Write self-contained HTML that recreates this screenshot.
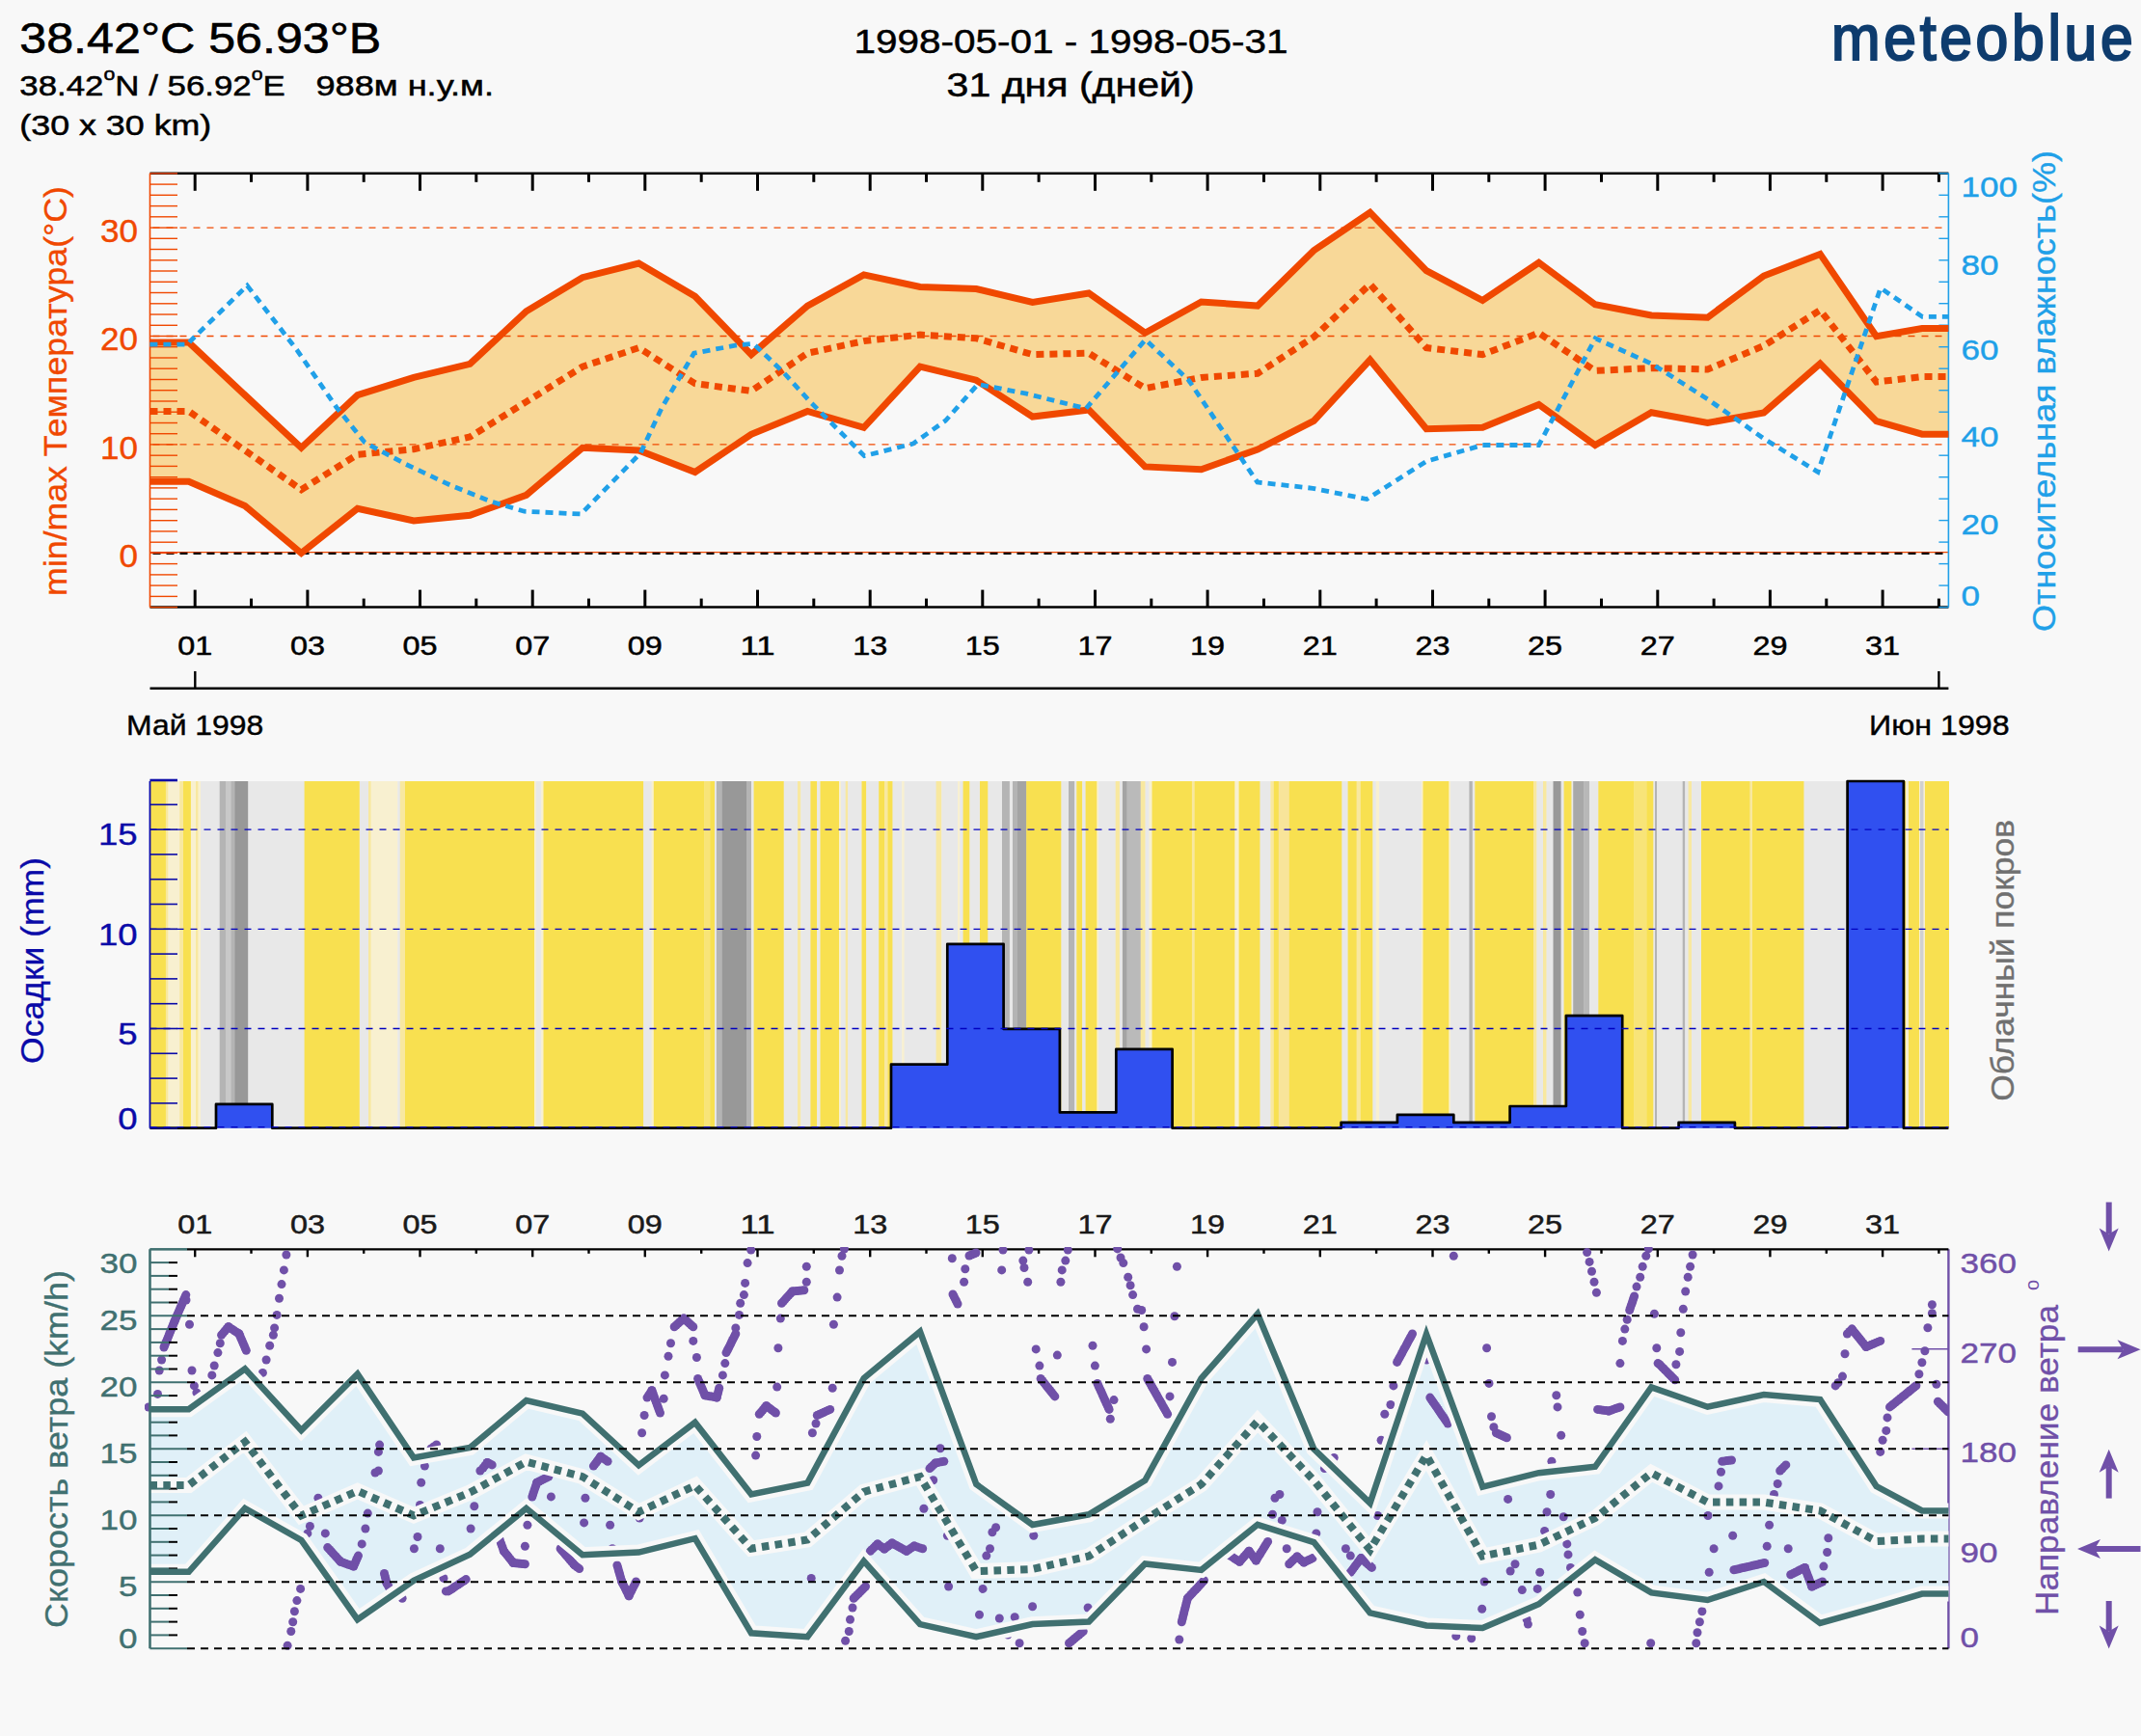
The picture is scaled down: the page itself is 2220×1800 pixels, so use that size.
<!DOCTYPE html><html><head><meta charset="utf-8"><style>html,body{margin:0;padding:0;background:#f8f8f8;overflow:hidden;}svg{display:block;font-family:"Liberation Sans", sans-serif;}</style></head><body>
<svg width="2220" height="1800" viewBox="0 0 2220 1800">
<rect width="2220" height="1800" fill="#f8f8f8"/>
<text x="20.3" y="55.0" font-size="44.5" fill="#000" textLength="375.0" lengthAdjust="spacingAndGlyphs"  stroke="#000" stroke-width="0.60">38.42°C 56.93°B</text>
<text x="20.3" y="99" font-size="29.5" fill="#000" stroke="#000" stroke-width="0.5" textLength="275.5" lengthAdjust="spacingAndGlyphs">38.42<tspan font-size="18" dy="-16">o</tspan><tspan dy="16">N / 56.92</tspan><tspan font-size="18" dy="-16">o</tspan><tspan dy="16">E</tspan></text>
<text x="327.5" y="99.0" font-size="29.5" fill="#000" textLength="184.5" lengthAdjust="spacingAndGlyphs"  stroke="#000" stroke-width="0.50">988м н.у.м.</text>
<text x="20.3" y="140.0" font-size="29.5" fill="#000" textLength="199.0" lengthAdjust="spacingAndGlyphs"  stroke="#000" stroke-width="0.50">(30 x 30 km)</text>
<text x="885.5" y="54.7" font-size="35.3" fill="#000" textLength="450.0" lengthAdjust="spacingAndGlyphs"  stroke="#000" stroke-width="0.50">1998-05-01 - 1998-05-31</text>
<text x="981.6" y="99.5" font-size="35.3" fill="#000" textLength="257.0" lengthAdjust="spacingAndGlyphs"  stroke="#000" stroke-width="0.50">31 дня (дней)</text>
<text transform="translate(1899,62) scale(0.92,1)" x="0" y="0" font-size="66" fill="#0e3c6e" stroke="#0e3c6e" stroke-width="2.2" textLength="340" lengthAdjust="spacing">meteoblue</text>
<polygon points="155.5,355.0 195.7,355.0 254.0,409.6 312.4,464.3 370.7,409.6 429.0,391.4 487.3,377.4 545.7,322.7 604.0,287.7 662.3,273.1 720.7,307.3 779.0,367.6 837.3,317.1 895.7,284.9 954.0,297.5 1012.3,299.5 1070.6,313.5 1129.0,304.0 1187.3,345.2 1245.6,313.0 1304.0,317.1 1362.3,259.7 1420.6,220.4 1479.0,280.7 1537.3,311.5 1595.6,272.3 1654.0,315.7 1712.3,327.0 1770.6,329.2 1828.9,286.0 1887.3,263.4 1945.6,348.7 1993.0,340.5 2020.4,340.5 2020.4,450.2 1993.0,450.2 1945.6,436.6 1887.3,377.1 1828.9,428.0 1770.6,438.5 1712.3,427.8 1654.0,461.5 1595.6,419.4 1537.3,443.3 1479.0,444.7 1420.6,373.2 1362.3,436.3 1304.0,466.0 1245.6,486.7 1187.3,483.9 1129.0,425.0 1070.6,432.0 1012.3,394.2 954.0,380.2 895.7,443.3 837.3,426.4 779.0,450.3 720.7,489.5 662.3,467.0 604.0,464.3 545.7,513.3 487.3,534.3 429.0,540.0 370.7,527.3 312.4,573.6 254.0,524.5 195.7,499.3 155.5,499.3" fill="#f8d898"/>
<line x1="158.5" y1="460.9" x2="2020.4" y2="460.9" stroke="#f04800" stroke-width="1.3" stroke-dasharray="7 7"/>
<line x1="158.5" y1="348.5" x2="2020.4" y2="348.5" stroke="#f04800" stroke-width="1.3" stroke-dasharray="7 7"/>
<line x1="158.5" y1="236.1" x2="2020.4" y2="236.1" stroke="#f04800" stroke-width="1.3" stroke-dasharray="7 7"/>
<line x1="155.5" y1="572.6" x2="2020.4" y2="572.6" stroke="#f04800" stroke-width="1.2"/>
<line x1="158.5" y1="573.9" x2="2020.4" y2="573.9" stroke="#000" stroke-width="2.4" stroke-dasharray="8 6"/>
<line x1="155.5" y1="179.8" x2="2020.4" y2="179.8" stroke="#000" stroke-width="2.5"/>
<line x1="155.5" y1="629.6" x2="2020.4" y2="629.6" stroke="#000" stroke-width="2.5"/>
<line x1="202.2" y1="179.8" x2="202.2" y2="197.8" stroke="#000" stroke-width="3"/>
<line x1="202.2" y1="629.6" x2="202.2" y2="611.6" stroke="#000" stroke-width="3"/>
<line x1="260.5" y1="179.8" x2="260.5" y2="188.8" stroke="#000" stroke-width="3"/>
<line x1="260.5" y1="629.6" x2="260.5" y2="620.6" stroke="#000" stroke-width="3"/>
<line x1="318.9" y1="179.8" x2="318.9" y2="197.8" stroke="#000" stroke-width="3"/>
<line x1="318.9" y1="629.6" x2="318.9" y2="611.6" stroke="#000" stroke-width="3"/>
<line x1="377.2" y1="179.8" x2="377.2" y2="188.8" stroke="#000" stroke-width="3"/>
<line x1="377.2" y1="629.6" x2="377.2" y2="620.6" stroke="#000" stroke-width="3"/>
<line x1="435.5" y1="179.8" x2="435.5" y2="197.8" stroke="#000" stroke-width="3"/>
<line x1="435.5" y1="629.6" x2="435.5" y2="611.6" stroke="#000" stroke-width="3"/>
<line x1="493.8" y1="179.8" x2="493.8" y2="188.8" stroke="#000" stroke-width="3"/>
<line x1="493.8" y1="629.6" x2="493.8" y2="620.6" stroke="#000" stroke-width="3"/>
<line x1="552.2" y1="179.8" x2="552.2" y2="197.8" stroke="#000" stroke-width="3"/>
<line x1="552.2" y1="629.6" x2="552.2" y2="611.6" stroke="#000" stroke-width="3"/>
<line x1="610.5" y1="179.8" x2="610.5" y2="188.8" stroke="#000" stroke-width="3"/>
<line x1="610.5" y1="629.6" x2="610.5" y2="620.6" stroke="#000" stroke-width="3"/>
<line x1="668.8" y1="179.8" x2="668.8" y2="197.8" stroke="#000" stroke-width="3"/>
<line x1="668.8" y1="629.6" x2="668.8" y2="611.6" stroke="#000" stroke-width="3"/>
<line x1="727.2" y1="179.8" x2="727.2" y2="188.8" stroke="#000" stroke-width="3"/>
<line x1="727.2" y1="629.6" x2="727.2" y2="620.6" stroke="#000" stroke-width="3"/>
<line x1="785.5" y1="179.8" x2="785.5" y2="197.8" stroke="#000" stroke-width="3"/>
<line x1="785.5" y1="629.6" x2="785.5" y2="611.6" stroke="#000" stroke-width="3"/>
<line x1="843.8" y1="179.8" x2="843.8" y2="188.8" stroke="#000" stroke-width="3"/>
<line x1="843.8" y1="629.6" x2="843.8" y2="620.6" stroke="#000" stroke-width="3"/>
<line x1="902.2" y1="179.8" x2="902.2" y2="197.8" stroke="#000" stroke-width="3"/>
<line x1="902.2" y1="629.6" x2="902.2" y2="611.6" stroke="#000" stroke-width="3"/>
<line x1="960.5" y1="179.8" x2="960.5" y2="188.8" stroke="#000" stroke-width="3"/>
<line x1="960.5" y1="629.6" x2="960.5" y2="620.6" stroke="#000" stroke-width="3"/>
<line x1="1018.8" y1="179.8" x2="1018.8" y2="197.8" stroke="#000" stroke-width="3"/>
<line x1="1018.8" y1="629.6" x2="1018.8" y2="611.6" stroke="#000" stroke-width="3"/>
<line x1="1077.1" y1="179.8" x2="1077.1" y2="188.8" stroke="#000" stroke-width="3"/>
<line x1="1077.1" y1="629.6" x2="1077.1" y2="620.6" stroke="#000" stroke-width="3"/>
<line x1="1135.5" y1="179.8" x2="1135.5" y2="197.8" stroke="#000" stroke-width="3"/>
<line x1="1135.5" y1="629.6" x2="1135.5" y2="611.6" stroke="#000" stroke-width="3"/>
<line x1="1193.8" y1="179.8" x2="1193.8" y2="188.8" stroke="#000" stroke-width="3"/>
<line x1="1193.8" y1="629.6" x2="1193.8" y2="620.6" stroke="#000" stroke-width="3"/>
<line x1="1252.1" y1="179.8" x2="1252.1" y2="197.8" stroke="#000" stroke-width="3"/>
<line x1="1252.1" y1="629.6" x2="1252.1" y2="611.6" stroke="#000" stroke-width="3"/>
<line x1="1310.5" y1="179.8" x2="1310.5" y2="188.8" stroke="#000" stroke-width="3"/>
<line x1="1310.5" y1="629.6" x2="1310.5" y2="620.6" stroke="#000" stroke-width="3"/>
<line x1="1368.8" y1="179.8" x2="1368.8" y2="197.8" stroke="#000" stroke-width="3"/>
<line x1="1368.8" y1="629.6" x2="1368.8" y2="611.6" stroke="#000" stroke-width="3"/>
<line x1="1427.1" y1="179.8" x2="1427.1" y2="188.8" stroke="#000" stroke-width="3"/>
<line x1="1427.1" y1="629.6" x2="1427.1" y2="620.6" stroke="#000" stroke-width="3"/>
<line x1="1485.5" y1="179.8" x2="1485.5" y2="197.8" stroke="#000" stroke-width="3"/>
<line x1="1485.5" y1="629.6" x2="1485.5" y2="611.6" stroke="#000" stroke-width="3"/>
<line x1="1543.8" y1="179.8" x2="1543.8" y2="188.8" stroke="#000" stroke-width="3"/>
<line x1="1543.8" y1="629.6" x2="1543.8" y2="620.6" stroke="#000" stroke-width="3"/>
<line x1="1602.1" y1="179.8" x2="1602.1" y2="197.8" stroke="#000" stroke-width="3"/>
<line x1="1602.1" y1="629.6" x2="1602.1" y2="611.6" stroke="#000" stroke-width="3"/>
<line x1="1660.5" y1="179.8" x2="1660.5" y2="188.8" stroke="#000" stroke-width="3"/>
<line x1="1660.5" y1="629.6" x2="1660.5" y2="620.6" stroke="#000" stroke-width="3"/>
<line x1="1718.8" y1="179.8" x2="1718.8" y2="197.8" stroke="#000" stroke-width="3"/>
<line x1="1718.8" y1="629.6" x2="1718.8" y2="611.6" stroke="#000" stroke-width="3"/>
<line x1="1777.1" y1="179.8" x2="1777.1" y2="188.8" stroke="#000" stroke-width="3"/>
<line x1="1777.1" y1="629.6" x2="1777.1" y2="620.6" stroke="#000" stroke-width="3"/>
<line x1="1835.4" y1="179.8" x2="1835.4" y2="197.8" stroke="#000" stroke-width="3"/>
<line x1="1835.4" y1="629.6" x2="1835.4" y2="611.6" stroke="#000" stroke-width="3"/>
<line x1="1893.8" y1="179.8" x2="1893.8" y2="188.8" stroke="#000" stroke-width="3"/>
<line x1="1893.8" y1="629.6" x2="1893.8" y2="620.6" stroke="#000" stroke-width="3"/>
<line x1="1952.1" y1="179.8" x2="1952.1" y2="197.8" stroke="#000" stroke-width="3"/>
<line x1="1952.1" y1="629.6" x2="1952.1" y2="611.6" stroke="#000" stroke-width="3"/>
<line x1="2010.4" y1="179.8" x2="2010.4" y2="188.8" stroke="#000" stroke-width="3"/>
<line x1="2010.4" y1="629.6" x2="2010.4" y2="620.6" stroke="#000" stroke-width="3"/>
<line x1="155.5" y1="179.8" x2="155.5" y2="629.6" stroke="#f04800" stroke-width="1.6"/>
<line x1="155.5" y1="629.6" x2="184" y2="629.6" stroke="#f04800" stroke-width="1.4"/>
<line x1="155.5" y1="618.4" x2="184" y2="618.4" stroke="#f04800" stroke-width="1.4"/>
<line x1="155.5" y1="607.1" x2="184" y2="607.1" stroke="#f04800" stroke-width="1.4"/>
<line x1="155.5" y1="595.9" x2="184" y2="595.9" stroke="#f04800" stroke-width="1.4"/>
<line x1="155.5" y1="584.6" x2="184" y2="584.6" stroke="#f04800" stroke-width="1.4"/>
<line x1="155.5" y1="573.4" x2="184" y2="573.4" stroke="#f04800" stroke-width="1.4"/>
<line x1="155.5" y1="562.2" x2="184" y2="562.2" stroke="#f04800" stroke-width="1.4"/>
<line x1="155.5" y1="550.9" x2="184" y2="550.9" stroke="#f04800" stroke-width="1.4"/>
<line x1="155.5" y1="539.7" x2="184" y2="539.7" stroke="#f04800" stroke-width="1.4"/>
<line x1="155.5" y1="528.4" x2="184" y2="528.4" stroke="#f04800" stroke-width="1.4"/>
<line x1="155.5" y1="517.2" x2="184" y2="517.2" stroke="#f04800" stroke-width="1.4"/>
<line x1="155.5" y1="505.9" x2="184" y2="505.9" stroke="#f04800" stroke-width="1.4"/>
<line x1="155.5" y1="494.7" x2="184" y2="494.7" stroke="#f04800" stroke-width="1.4"/>
<line x1="155.5" y1="483.4" x2="184" y2="483.4" stroke="#f04800" stroke-width="1.4"/>
<line x1="155.5" y1="472.2" x2="184" y2="472.2" stroke="#f04800" stroke-width="1.4"/>
<line x1="155.5" y1="460.9" x2="184" y2="460.9" stroke="#f04800" stroke-width="1.4"/>
<line x1="155.5" y1="449.7" x2="184" y2="449.7" stroke="#f04800" stroke-width="1.4"/>
<line x1="155.5" y1="438.5" x2="184" y2="438.5" stroke="#f04800" stroke-width="1.4"/>
<line x1="155.5" y1="427.2" x2="184" y2="427.2" stroke="#f04800" stroke-width="1.4"/>
<line x1="155.5" y1="416.0" x2="184" y2="416.0" stroke="#f04800" stroke-width="1.4"/>
<line x1="155.5" y1="404.7" x2="184" y2="404.7" stroke="#f04800" stroke-width="1.4"/>
<line x1="155.5" y1="393.5" x2="184" y2="393.5" stroke="#f04800" stroke-width="1.4"/>
<line x1="155.5" y1="382.2" x2="184" y2="382.2" stroke="#f04800" stroke-width="1.4"/>
<line x1="155.5" y1="371.0" x2="184" y2="371.0" stroke="#f04800" stroke-width="1.4"/>
<line x1="155.5" y1="359.7" x2="184" y2="359.7" stroke="#f04800" stroke-width="1.4"/>
<line x1="155.5" y1="348.5" x2="184" y2="348.5" stroke="#f04800" stroke-width="1.4"/>
<line x1="155.5" y1="337.3" x2="184" y2="337.3" stroke="#f04800" stroke-width="1.4"/>
<line x1="155.5" y1="326.0" x2="184" y2="326.0" stroke="#f04800" stroke-width="1.4"/>
<line x1="155.5" y1="314.8" x2="184" y2="314.8" stroke="#f04800" stroke-width="1.4"/>
<line x1="155.5" y1="303.5" x2="184" y2="303.5" stroke="#f04800" stroke-width="1.4"/>
<line x1="155.5" y1="292.3" x2="184" y2="292.3" stroke="#f04800" stroke-width="1.4"/>
<line x1="155.5" y1="281.0" x2="184" y2="281.0" stroke="#f04800" stroke-width="1.4"/>
<line x1="155.5" y1="269.8" x2="184" y2="269.8" stroke="#f04800" stroke-width="1.4"/>
<line x1="155.5" y1="258.5" x2="184" y2="258.5" stroke="#f04800" stroke-width="1.4"/>
<line x1="155.5" y1="247.3" x2="184" y2="247.3" stroke="#f04800" stroke-width="1.4"/>
<line x1="155.5" y1="236.1" x2="184" y2="236.1" stroke="#f04800" stroke-width="1.4"/>
<line x1="155.5" y1="224.8" x2="184" y2="224.8" stroke="#f04800" stroke-width="1.4"/>
<line x1="155.5" y1="213.6" x2="184" y2="213.6" stroke="#f04800" stroke-width="1.4"/>
<line x1="155.5" y1="202.3" x2="184" y2="202.3" stroke="#f04800" stroke-width="1.4"/>
<line x1="155.5" y1="191.1" x2="184" y2="191.1" stroke="#f04800" stroke-width="1.4"/>
<line x1="155.5" y1="179.8" x2="184" y2="179.8" stroke="#f04800" stroke-width="1.4"/>
<line x1="2020.4" y1="179.8" x2="2020.4" y2="629.6" stroke="#20a0e8" stroke-width="1.6"/>
<line x1="2010.4" y1="629.6" x2="2020.4" y2="629.6" stroke="#20a0e8" stroke-width="1.4"/>
<line x1="2010.4" y1="607.1" x2="2020.4" y2="607.1" stroke="#20a0e8" stroke-width="1.4"/>
<line x1="2010.4" y1="584.6" x2="2020.4" y2="584.6" stroke="#20a0e8" stroke-width="1.4"/>
<line x1="2010.4" y1="562.1" x2="2020.4" y2="562.1" stroke="#20a0e8" stroke-width="1.4"/>
<line x1="2010.4" y1="539.6" x2="2020.4" y2="539.6" stroke="#20a0e8" stroke-width="1.4"/>
<line x1="2010.4" y1="517.2" x2="2020.4" y2="517.2" stroke="#20a0e8" stroke-width="1.4"/>
<line x1="2010.4" y1="494.7" x2="2020.4" y2="494.7" stroke="#20a0e8" stroke-width="1.4"/>
<line x1="2010.4" y1="472.2" x2="2020.4" y2="472.2" stroke="#20a0e8" stroke-width="1.4"/>
<line x1="2010.4" y1="449.7" x2="2020.4" y2="449.7" stroke="#20a0e8" stroke-width="1.4"/>
<line x1="2010.4" y1="427.2" x2="2020.4" y2="427.2" stroke="#20a0e8" stroke-width="1.4"/>
<line x1="2010.4" y1="404.7" x2="2020.4" y2="404.7" stroke="#20a0e8" stroke-width="1.4"/>
<line x1="2010.4" y1="382.2" x2="2020.4" y2="382.2" stroke="#20a0e8" stroke-width="1.4"/>
<line x1="2010.4" y1="359.7" x2="2020.4" y2="359.7" stroke="#20a0e8" stroke-width="1.4"/>
<line x1="2010.4" y1="337.2" x2="2020.4" y2="337.2" stroke="#20a0e8" stroke-width="1.4"/>
<line x1="2010.4" y1="314.7" x2="2020.4" y2="314.7" stroke="#20a0e8" stroke-width="1.4"/>
<line x1="2010.4" y1="292.3" x2="2020.4" y2="292.3" stroke="#20a0e8" stroke-width="1.4"/>
<line x1="2010.4" y1="269.8" x2="2020.4" y2="269.8" stroke="#20a0e8" stroke-width="1.4"/>
<line x1="2010.4" y1="247.3" x2="2020.4" y2="247.3" stroke="#20a0e8" stroke-width="1.4"/>
<line x1="2010.4" y1="224.8" x2="2020.4" y2="224.8" stroke="#20a0e8" stroke-width="1.4"/>
<line x1="2010.4" y1="202.3" x2="2020.4" y2="202.3" stroke="#20a0e8" stroke-width="1.4"/>
<line x1="2010.4" y1="179.8" x2="2020.4" y2="179.8" stroke="#20a0e8" stroke-width="1.4"/>
<polyline points="155.5,355.0 195.7,355.0 254.0,409.6 312.4,464.3 370.7,409.6 429.0,391.4 487.3,377.4 545.7,322.7 604.0,287.7 662.3,273.1 720.7,307.3 779.0,367.6 837.3,317.1 895.7,284.9 954.0,297.5 1012.3,299.5 1070.6,313.5 1129.0,304.0 1187.3,345.2 1245.6,313.0 1304.0,317.1 1362.3,259.7 1420.6,220.4 1479.0,280.7 1537.3,311.5 1595.6,272.3 1654.0,315.7 1712.3,327.0 1770.6,329.2 1828.9,286.0 1887.3,263.4 1945.6,348.7 1993.0,340.5 2020.4,340.5" fill="none" stroke="#f04800" stroke-width="7" stroke-linejoin="miter"/>
<polyline points="155.5,499.3 195.7,499.3 254.0,524.5 312.4,573.6 370.7,527.3 429.0,540.0 487.3,534.3 545.7,513.3 604.0,464.3 662.3,467.0 720.7,489.5 779.0,450.3 837.3,426.4 895.7,443.3 954.0,380.2 1012.3,394.2 1070.6,432.0 1129.0,425.0 1187.3,483.9 1245.6,486.7 1304.0,466.0 1362.3,436.3 1420.6,373.2 1479.0,444.7 1537.3,443.3 1595.6,419.4 1654.0,461.5 1712.3,427.8 1770.6,438.5 1828.9,428.0 1887.3,377.1 1945.6,436.6 1993.0,450.2 2020.4,450.2" fill="none" stroke="#f04800" stroke-width="7"/>
<polyline points="155.5,426.4 195.7,426.4 254.0,467.0 312.4,507.7 370.7,471.3 429.0,465.7 487.3,453.0 545.7,416.6 604.0,380.2 662.3,360.6 720.7,397.7 779.0,405.4 837.3,366.2 895.7,353.6 954.0,347.1 1012.3,350.8 1070.6,367.6 1129.0,366.2 1187.3,402.6 1245.6,391.4 1304.0,387.2 1362.3,349.4 1420.6,294.7 1479.0,360.6 1537.3,367.6 1595.6,345.2 1654.0,384.4 1712.3,381.6 1770.6,383.0 1828.9,358.5 1887.3,321.6 1945.6,396.0 1993.0,390.6 2020.4,390.6" fill="none" stroke="#f04800" stroke-width="7" stroke-dasharray="8 6"/>
<polyline points="155.4,357.2 194.7,357.2 197.5,353.6 256.3,296.1 308.2,363.3 348.8,422.2 378.2,458.7 420.3,481.1 467.9,503.5 510.0,520.3 543.6,530.2 602.4,533.0 664.1,469.9 686.5,422.2 719.6,366.2 764.5,357.8 781.3,356.4 812.1,385.8 840.1,416.6 896.2,472.7 946.6,460.1 980.3,436.3 1013.9,398.4 1064.4,408.2 1126.0,423.6 1187.7,352.2 1232.5,394.2 1303.8,500.0 1361.3,506.3 1417.3,517.5 1479.0,478.3 1537.3,461.5 1595.6,461.5 1654.2,350.8 1713.0,377.4 1770.5,413.8 1829.3,455.0 1885.0,489.4 1950.0,298.6 1993.3,328.4 2020.3,328.4" fill="none" stroke="#20a0e8" stroke-width="4.8" stroke-dasharray="8 6"/>
<text x="143.0" y="250.5" font-size="32.5" fill="#f04800" textLength="39.0" lengthAdjust="spacingAndGlyphs" text-anchor="end"  stroke="#f04800" stroke-width="0.40">30</text>
<text x="143.0" y="363.3" font-size="32.5" fill="#f04800" textLength="39.0" lengthAdjust="spacingAndGlyphs" text-anchor="end"  stroke="#f04800" stroke-width="0.40">20</text>
<text x="143.0" y="475.6" font-size="32.5" fill="#f04800" textLength="39.0" lengthAdjust="spacingAndGlyphs" text-anchor="end"  stroke="#f04800" stroke-width="0.40">10</text>
<text x="143.0" y="587.9" font-size="32.5" fill="#f04800" textLength="19.5" lengthAdjust="spacingAndGlyphs" text-anchor="end"  stroke="#f04800" stroke-width="0.40">0</text>
<text x="2033.5" y="203.7" font-size="30.0" fill="#20a0e8" textLength="58.5" lengthAdjust="spacingAndGlyphs"  stroke="#20a0e8" stroke-width="0.40">100</text>
<text x="2033.5" y="284.5" font-size="30.0" fill="#20a0e8" textLength="39.0" lengthAdjust="spacingAndGlyphs"  stroke="#20a0e8" stroke-width="0.40">80</text>
<text x="2033.5" y="373.1" font-size="30.0" fill="#20a0e8" textLength="39.0" lengthAdjust="spacingAndGlyphs"  stroke="#20a0e8" stroke-width="0.40">60</text>
<text x="2033.5" y="463.3" font-size="30.0" fill="#20a0e8" textLength="39.0" lengthAdjust="spacingAndGlyphs"  stroke="#20a0e8" stroke-width="0.40">40</text>
<text x="2033.5" y="553.5" font-size="30.0" fill="#20a0e8" textLength="39.0" lengthAdjust="spacingAndGlyphs"  stroke="#20a0e8" stroke-width="0.40">20</text>
<text x="2033.5" y="628.1" font-size="30.0" fill="#20a0e8" textLength="19.5" lengthAdjust="spacingAndGlyphs"  stroke="#20a0e8" stroke-width="0.40">0</text>
<text transform="translate(69.1,618) rotate(-90)" font-size="34" fill="#f04800" stroke="#f04800" stroke-width="0.35" textLength="425" lengthAdjust="spacingAndGlyphs">min/max Температура(°C)</text>
<text transform="translate(2131,655) rotate(-90)" font-size="34" fill="#20a0e8" stroke="#20a0e8" stroke-width="0.35" textLength="499" lengthAdjust="spacingAndGlyphs">Относительная влажность(%)</text>
<text x="202.2" y="678.9" font-size="28.5" fill="#000" textLength="36.0" lengthAdjust="spacingAndGlyphs" text-anchor="middle"  stroke="#000" stroke-width="0.50">01</text>
<text x="318.9" y="678.9" font-size="28.5" fill="#000" textLength="36.0" lengthAdjust="spacingAndGlyphs" text-anchor="middle"  stroke="#000" stroke-width="0.50">03</text>
<text x="435.5" y="678.9" font-size="28.5" fill="#000" textLength="36.0" lengthAdjust="spacingAndGlyphs" text-anchor="middle"  stroke="#000" stroke-width="0.50">05</text>
<text x="552.2" y="678.9" font-size="28.5" fill="#000" textLength="36.0" lengthAdjust="spacingAndGlyphs" text-anchor="middle"  stroke="#000" stroke-width="0.50">07</text>
<text x="668.8" y="678.9" font-size="28.5" fill="#000" textLength="36.0" lengthAdjust="spacingAndGlyphs" text-anchor="middle"  stroke="#000" stroke-width="0.50">09</text>
<text x="785.5" y="678.9" font-size="28.5" fill="#000" textLength="36.0" lengthAdjust="spacingAndGlyphs" text-anchor="middle"  stroke="#000" stroke-width="0.50">11</text>
<text x="902.2" y="678.9" font-size="28.5" fill="#000" textLength="36.0" lengthAdjust="spacingAndGlyphs" text-anchor="middle"  stroke="#000" stroke-width="0.50">13</text>
<text x="1018.8" y="678.9" font-size="28.5" fill="#000" textLength="36.0" lengthAdjust="spacingAndGlyphs" text-anchor="middle"  stroke="#000" stroke-width="0.50">15</text>
<text x="1135.5" y="678.9" font-size="28.5" fill="#000" textLength="36.0" lengthAdjust="spacingAndGlyphs" text-anchor="middle"  stroke="#000" stroke-width="0.50">17</text>
<text x="1252.1" y="678.9" font-size="28.5" fill="#000" textLength="36.0" lengthAdjust="spacingAndGlyphs" text-anchor="middle"  stroke="#000" stroke-width="0.50">19</text>
<text x="1368.8" y="678.9" font-size="28.5" fill="#000" textLength="36.0" lengthAdjust="spacingAndGlyphs" text-anchor="middle"  stroke="#000" stroke-width="0.50">21</text>
<text x="1485.5" y="678.9" font-size="28.5" fill="#000" textLength="36.0" lengthAdjust="spacingAndGlyphs" text-anchor="middle"  stroke="#000" stroke-width="0.50">23</text>
<text x="1602.1" y="678.9" font-size="28.5" fill="#000" textLength="36.0" lengthAdjust="spacingAndGlyphs" text-anchor="middle"  stroke="#000" stroke-width="0.50">25</text>
<text x="1718.8" y="678.9" font-size="28.5" fill="#000" textLength="36.0" lengthAdjust="spacingAndGlyphs" text-anchor="middle"  stroke="#000" stroke-width="0.50">27</text>
<text x="1835.4" y="678.9" font-size="28.5" fill="#000" textLength="36.0" lengthAdjust="spacingAndGlyphs" text-anchor="middle"  stroke="#000" stroke-width="0.50">29</text>
<text x="1952.1" y="678.9" font-size="28.5" fill="#000" textLength="36.0" lengthAdjust="spacingAndGlyphs" text-anchor="middle"  stroke="#000" stroke-width="0.50">31</text>
<line x1="155.5" y1="713.8" x2="2020.4" y2="713.8" stroke="#000" stroke-width="2.4"/>
<line x1="202.3" y1="696" x2="202.3" y2="713.8" stroke="#000" stroke-width="2.4"/>
<line x1="2010.4" y1="696" x2="2010.4" y2="713.8" stroke="#000" stroke-width="2.4"/>
<text x="131.0" y="762.2" font-size="29.0" fill="#000" textLength="142.3" lengthAdjust="spacingAndGlyphs"  stroke="#000" stroke-width="0.40">Май 1998</text>
<text x="1938.0" y="762.2" font-size="29.0" fill="#000" textLength="145.6" lengthAdjust="spacingAndGlyphs"  stroke="#000" stroke-width="0.40">Июн 1998</text>
<rect x="155.5" y="810.0" width="16.8" height="359.7" fill="#f8e050"/>
<rect x="171.9" y="810.0" width="2.9" height="359.7" fill="#f8e8a0"/>
<rect x="174.4" y="810.0" width="12.2" height="359.7" fill="#f8f0d0"/>
<rect x="186.2" y="810.0" width="4.2" height="359.7" fill="#f8e8a0"/>
<rect x="190.0" y="810.0" width="8.3" height="359.7" fill="#f8e050"/>
<rect x="197.9" y="810.0" width="5.5" height="359.7" fill="#f8f0d0"/>
<rect x="203.0" y="810.0" width="2.9" height="359.7" fill="#f8e8a0"/>
<rect x="205.5" y="810.0" width="2.9" height="359.7" fill="#f8f0d0"/>
<rect x="208.0" y="810.0" width="20.1" height="359.7" fill="#e8e8e8"/>
<rect x="227.7" y="810.0" width="6.7" height="359.7" fill="#b4b4b4"/>
<rect x="234.0" y="810.0" width="5.9" height="359.7" fill="#c8c8c8"/>
<rect x="239.5" y="810.0" width="4.2" height="359.7" fill="#b4b4b4"/>
<rect x="243.3" y="810.0" width="14.4" height="359.7" fill="#989898"/>
<rect x="257.3" y="810.0" width="58.7" height="359.7" fill="#e8e8e8"/>
<rect x="315.6" y="810.0" width="57.6" height="359.7" fill="#f8e050"/>
<rect x="372.8" y="810.0" width="9.6" height="359.7" fill="#e8e8e8"/>
<rect x="382.0" y="810.0" width="3.0" height="359.7" fill="#f8e8a0"/>
<rect x="384.6" y="810.0" width="28.1" height="359.7" fill="#f8f0d0"/>
<rect x="412.3" y="810.0" width="2.9" height="359.7" fill="#e8e8e8"/>
<rect x="414.8" y="810.0" width="5.6" height="359.7" fill="#f8e8a0"/>
<rect x="420.0" y="810.0" width="134.4" height="359.7" fill="#f8e050"/>
<rect x="554.0" y="810.0" width="2.1" height="359.7" fill="#f8f0d0"/>
<rect x="555.7" y="810.0" width="6.0" height="359.7" fill="#e8e8e8"/>
<rect x="561.3" y="810.0" width="2.6" height="359.7" fill="#f8f0d0"/>
<rect x="563.5" y="810.0" width="104.1" height="359.7" fill="#f8e050"/>
<rect x="667.2" y="810.0" width="8.8" height="359.7" fill="#e8e8e8"/>
<rect x="675.6" y="810.0" width="2.6" height="359.7" fill="#f8f0d0"/>
<rect x="677.8" y="810.0" width="52.9" height="359.7" fill="#f8e050"/>
<rect x="730.3" y="810.0" width="6.3" height="359.7" fill="#f8e478"/>
<rect x="736.2" y="810.0" width="5.2" height="359.7" fill="#f8e050"/>
<rect x="741.0" y="810.0" width="2.3" height="359.7" fill="#e8e8e8"/>
<rect x="742.9" y="810.0" width="6.3" height="359.7" fill="#b4b4b4"/>
<rect x="748.8" y="810.0" width="25.6" height="359.7" fill="#989898"/>
<rect x="774.0" y="810.0" width="5.4" height="359.7" fill="#b4b4b4"/>
<rect x="779.0" y="810.0" width="3.0" height="359.7" fill="#e8e8e8"/>
<rect x="781.6" y="810.0" width="31.5" height="359.7" fill="#f8e050"/>
<rect x="812.7" y="810.0" width="14.7" height="359.7" fill="#e8e8e8"/>
<rect x="827.0" y="810.0" width="3.7" height="359.7" fill="#f8e8a0"/>
<rect x="830.3" y="810.0" width="10.5" height="359.7" fill="#e8e8e8"/>
<rect x="840.4" y="810.0" width="7.1" height="359.7" fill="#f8e050"/>
<rect x="847.1" y="810.0" width="3.8" height="359.7" fill="#e8e8e8"/>
<rect x="850.5" y="810.0" width="19.9" height="359.7" fill="#f8e050"/>
<rect x="870.0" y="810.0" width="2.4" height="359.7" fill="#f8f0d0"/>
<rect x="872.0" y="810.0" width="5.1" height="359.7" fill="#e8e8e8"/>
<rect x="876.7" y="810.0" width="2.9" height="359.7" fill="#f8e8a0"/>
<rect x="879.2" y="810.0" width="14.7" height="359.7" fill="#e8e8e8"/>
<rect x="893.5" y="810.0" width="5.1" height="359.7" fill="#f8e050"/>
<rect x="898.2" y="810.0" width="13.4" height="359.7" fill="#e8e8e8"/>
<rect x="911.2" y="810.0" width="6.2" height="359.7" fill="#f8e050"/>
<rect x="917.0" y="810.0" width="3.9" height="359.7" fill="#f8e8a0"/>
<rect x="920.5" y="810.0" width="5.4" height="359.7" fill="#f8e050"/>
<rect x="925.5" y="810.0" width="10.1" height="359.7" fill="#e8e8e8"/>
<rect x="935.2" y="810.0" width="2.8" height="359.7" fill="#f8f0d0"/>
<rect x="937.6" y="810.0" width="33.4" height="359.7" fill="#e8e8e8"/>
<rect x="970.6" y="810.0" width="6.1" height="359.7" fill="#f8e8a0"/>
<rect x="976.3" y="810.0" width="17.2" height="359.7" fill="#e8e8e8"/>
<rect x="993.1" y="810.0" width="2.6" height="359.7" fill="#f8f0d0"/>
<rect x="995.3" y="810.0" width="3.7" height="359.7" fill="#e8e8e8"/>
<rect x="998.6" y="810.0" width="7.2" height="359.7" fill="#f8e050"/>
<rect x="1005.4" y="810.0" width="11.0" height="359.7" fill="#e8e8e8"/>
<rect x="1016.0" y="810.0" width="8.8" height="359.7" fill="#f8e050"/>
<rect x="1024.4" y="810.0" width="15.0" height="359.7" fill="#e8e8e8"/>
<rect x="1039.0" y="810.0" width="8.3" height="359.7" fill="#b4b4b4"/>
<rect x="1046.9" y="810.0" width="3.5" height="359.7" fill="#e8e8e8"/>
<rect x="1050.0" y="810.0" width="5.4" height="359.7" fill="#b4b4b4"/>
<rect x="1055.0" y="810.0" width="9.6" height="359.7" fill="#a4a4a4"/>
<rect x="1064.2" y="810.0" width="36.6" height="359.7" fill="#f8e050"/>
<rect x="1100.4" y="810.0" width="8.0" height="359.7" fill="#e8e8e8"/>
<rect x="1108.0" y="810.0" width="6.6" height="359.7" fill="#b4b4b4"/>
<rect x="1114.2" y="810.0" width="2.5" height="359.7" fill="#e8e8e8"/>
<rect x="1116.3" y="810.0" width="6.3" height="359.7" fill="#f8e050"/>
<rect x="1122.2" y="810.0" width="3.8" height="359.7" fill="#e8e8e8"/>
<rect x="1125.6" y="810.0" width="12.2" height="359.7" fill="#f8e050"/>
<rect x="1137.4" y="810.0" width="2.0" height="359.7" fill="#f8f0d0"/>
<rect x="1139.0" y="810.0" width="18.1" height="359.7" fill="#e8e8e8"/>
<rect x="1156.7" y="810.0" width="4.6" height="359.7" fill="#f8e8a0"/>
<rect x="1160.9" y="810.0" width="3.4" height="359.7" fill="#e8e8e8"/>
<rect x="1163.9" y="810.0" width="5.0" height="359.7" fill="#a4a4a4"/>
<rect x="1168.5" y="810.0" width="14.6" height="359.7" fill="#bababa"/>
<rect x="1182.7" y="810.0" width="5.2" height="359.7" fill="#f8e8a0"/>
<rect x="1187.5" y="810.0" width="4.4" height="359.7" fill="#e8e8e8"/>
<rect x="1191.5" y="810.0" width="3.4" height="359.7" fill="#f8f0d0"/>
<rect x="1194.5" y="810.0" width="41.8" height="359.7" fill="#f8e050"/>
<rect x="1235.9" y="810.0" width="3.2" height="359.7" fill="#f8e8a0"/>
<rect x="1238.7" y="810.0" width="42.1" height="359.7" fill="#f8e050"/>
<rect x="1280.4" y="810.0" width="4.6" height="359.7" fill="#f8f0d0"/>
<rect x="1284.6" y="810.0" width="22.3" height="359.7" fill="#f8e050"/>
<rect x="1306.5" y="810.0" width="11.3" height="359.7" fill="#e8e8e8"/>
<rect x="1317.4" y="810.0" width="3.8" height="359.7" fill="#f8e8a0"/>
<rect x="1320.8" y="810.0" width="5.4" height="359.7" fill="#f8e050"/>
<rect x="1325.8" y="810.0" width="11.4" height="359.7" fill="#f8e49a"/>
<rect x="1336.8" y="810.0" width="55.0" height="359.7" fill="#f8e050"/>
<rect x="1391.4" y="810.0" width="6.6" height="359.7" fill="#e8e8e8"/>
<rect x="1397.6" y="810.0" width="9.4" height="359.7" fill="#f8e050"/>
<rect x="1406.6" y="810.0" width="4.6" height="359.7" fill="#f8e8a0"/>
<rect x="1410.8" y="810.0" width="13.0" height="359.7" fill="#f8e050"/>
<rect x="1423.4" y="810.0" width="3.7" height="359.7" fill="#e8e8e8"/>
<rect x="1426.7" y="810.0" width="3.8" height="359.7" fill="#f8f0d0"/>
<rect x="1430.1" y="810.0" width="44.1" height="359.7" fill="#e8e8e8"/>
<rect x="1473.8" y="810.0" width="2.1" height="359.7" fill="#f8f0d0"/>
<rect x="1475.5" y="810.0" width="27.3" height="359.7" fill="#f8e050"/>
<rect x="1502.4" y="810.0" width="2.0" height="359.7" fill="#f8f0d0"/>
<rect x="1504.0" y="810.0" width="19.8" height="359.7" fill="#e8e8e8"/>
<rect x="1523.4" y="810.0" width="3.8" height="359.7" fill="#b4b4b4"/>
<rect x="1526.8" y="810.0" width="2.9" height="359.7" fill="#e8e8e8"/>
<rect x="1529.3" y="810.0" width="61.1" height="359.7" fill="#f8e050"/>
<rect x="1590.0" y="810.0" width="3.8" height="359.7" fill="#f8e8a0"/>
<rect x="1593.4" y="810.0" width="7.0" height="359.7" fill="#e8e8e8"/>
<rect x="1600.0" y="810.0" width="3.9" height="359.7" fill="#f8e8a0"/>
<rect x="1603.5" y="810.0" width="7.4" height="359.7" fill="#e8e8e8"/>
<rect x="1610.5" y="810.0" width="8.5" height="359.7" fill="#989898"/>
<rect x="1618.6" y="810.0" width="3.4" height="359.7" fill="#e8e8e8"/>
<rect x="1621.6" y="810.0" width="8.3" height="359.7" fill="#f8e050"/>
<rect x="1629.5" y="810.0" width="2.1" height="359.7" fill="#e8e8e8"/>
<rect x="1631.2" y="810.0" width="11.3" height="359.7" fill="#a8a8a8"/>
<rect x="1642.1" y="810.0" width="6.3" height="359.7" fill="#b8b8b8"/>
<rect x="1648.0" y="810.0" width="9.7" height="359.7" fill="#e8e8e8"/>
<rect x="1657.3" y="810.0" width="37.4" height="359.7" fill="#f8e050"/>
<rect x="1694.3" y="810.0" width="13.8" height="359.7" fill="#f8e478"/>
<rect x="1707.7" y="810.0" width="7.1" height="359.7" fill="#f8e050"/>
<rect x="1714.4" y="810.0" width="2.0" height="359.7" fill="#e8e8e8"/>
<rect x="1716.0" y="810.0" width="2.4" height="359.7" fill="#b4b4b4"/>
<rect x="1718.0" y="810.0" width="27.1" height="359.7" fill="#e8e8e8"/>
<rect x="1744.7" y="810.0" width="2.9" height="359.7" fill="#b4b4b4"/>
<rect x="1747.2" y="810.0" width="3.8" height="359.7" fill="#e8e8e8"/>
<rect x="1750.6" y="810.0" width="3.8" height="359.7" fill="#f8e8a0"/>
<rect x="1754.0" y="810.0" width="10.4" height="359.7" fill="#e8e8e8"/>
<rect x="1764.0" y="810.0" width="50.9" height="359.7" fill="#f8e050"/>
<rect x="1814.5" y="810.0" width="2.9" height="359.7" fill="#f8e8a0"/>
<rect x="1817.0" y="810.0" width="53.9" height="359.7" fill="#f8e050"/>
<rect x="1870.5" y="810.0" width="45.9" height="359.7" fill="#e8e8e8"/>
<rect x="1916.0" y="810.0" width="60.4" height="359.7" fill="#f8e050"/>
<rect x="1976.0" y="810.0" width="3.4" height="359.7" fill="#f8f0d0"/>
<rect x="1979.0" y="810.0" width="11.4" height="359.7" fill="#f8e050"/>
<rect x="1990.0" y="810.0" width="1.4" height="359.7" fill="#f8f0d0"/>
<rect x="1991.0" y="810.0" width="3.9" height="359.7" fill="#d0d0d0"/>
<rect x="1994.5" y="810.0" width="1.9" height="359.7" fill="#f8f0d0"/>
<rect x="1996.0" y="810.0" width="25.0" height="359.7" fill="#f8e050"/>
<path d="M 155.5 1169.7 L 224.0 1169.7 L 224.0 1144.9 L 282.3 1144.9 L 282.3 1144.9 L 282.3 1169.7 L 340.7 1169.7 L 340.7 1169.7 L 340.7 1169.7 L 399.0 1169.7 L 399.0 1169.7 L 399.0 1169.7 L 457.3 1169.7 L 457.3 1169.7 L 457.3 1169.7 L 515.6 1169.7 L 515.6 1169.7 L 515.6 1169.7 L 574.0 1169.7 L 574.0 1169.7 L 574.0 1169.7 L 632.3 1169.7 L 632.3 1169.7 L 632.3 1169.7 L 690.6 1169.7 L 690.6 1169.7 L 690.6 1169.7 L 749.0 1169.7 L 749.0 1169.7 L 749.0 1169.7 L 807.3 1169.7 L 807.3 1169.7 L 807.3 1169.7 L 865.6 1169.7 L 865.6 1169.7 L 865.6 1169.7 L 924.0 1169.7 L 924.0 1169.7 L 924.0 1103.7 L 982.3 1103.7 L 982.3 1103.7 L 982.3 978.8 L 1040.6 978.8 L 1040.6 978.8 L 1040.6 1066.9 L 1098.9 1066.9 L 1098.9 1066.9 L 1098.9 1153.4 L 1157.3 1153.4 L 1157.3 1153.4 L 1157.3 1087.8 L 1215.6 1087.8 L 1215.6 1087.8 L 1215.6 1169.7 L 1273.9 1169.7 L 1273.9 1169.7 L 1273.9 1169.7 L 1332.3 1169.7 L 1332.3 1169.7 L 1332.3 1169.7 L 1390.6 1169.7 L 1390.6 1169.7 L 1390.6 1163.9 L 1448.9 1163.9 L 1448.9 1163.9 L 1448.9 1155.9 L 1507.3 1155.9 L 1507.3 1155.9 L 1507.3 1163.9 L 1565.6 1163.9 L 1565.6 1163.9 L 1565.6 1147.0 L 1623.9 1147.0 L 1623.9 1147.0 L 1623.9 1053.1 L 1682.2 1053.1 L 1682.2 1053.1 L 1682.2 1169.7 L 1740.6 1169.7 L 1740.6 1169.7 L 1740.6 1163.9 L 1798.9 1163.9 L 1798.9 1163.9 L 1798.9 1169.7 L 1857.2 1169.7 L 1857.2 1169.7 L 1857.2 1169.7 L 1915.6 1169.7 L 1915.6 1169.7 L 1915.6 810.0 L 1973.9 810.0 L 1973.9 810.0 L 1973.9 1169.7 L 2020.4 1169.7 L 2020.4 1169.7 L 2020.4 1169.7 Z" fill="#3050f0"/>
<path d="M 155.5 1169.7 L 224.0 1169.7 L 224.0 1144.9 L 282.3 1144.9 L 282.3 1144.9 L 282.3 1169.7 L 340.7 1169.7 L 340.7 1169.7 L 340.7 1169.7 L 399.0 1169.7 L 399.0 1169.7 L 399.0 1169.7 L 457.3 1169.7 L 457.3 1169.7 L 457.3 1169.7 L 515.6 1169.7 L 515.6 1169.7 L 515.6 1169.7 L 574.0 1169.7 L 574.0 1169.7 L 574.0 1169.7 L 632.3 1169.7 L 632.3 1169.7 L 632.3 1169.7 L 690.6 1169.7 L 690.6 1169.7 L 690.6 1169.7 L 749.0 1169.7 L 749.0 1169.7 L 749.0 1169.7 L 807.3 1169.7 L 807.3 1169.7 L 807.3 1169.7 L 865.6 1169.7 L 865.6 1169.7 L 865.6 1169.7 L 924.0 1169.7 L 924.0 1169.7 L 924.0 1103.7 L 982.3 1103.7 L 982.3 1103.7 L 982.3 978.8 L 1040.6 978.8 L 1040.6 978.8 L 1040.6 1066.9 L 1098.9 1066.9 L 1098.9 1066.9 L 1098.9 1153.4 L 1157.3 1153.4 L 1157.3 1153.4 L 1157.3 1087.8 L 1215.6 1087.8 L 1215.6 1087.8 L 1215.6 1169.7 L 1273.9 1169.7 L 1273.9 1169.7 L 1273.9 1169.7 L 1332.3 1169.7 L 1332.3 1169.7 L 1332.3 1169.7 L 1390.6 1169.7 L 1390.6 1169.7 L 1390.6 1163.9 L 1448.9 1163.9 L 1448.9 1163.9 L 1448.9 1155.9 L 1507.3 1155.9 L 1507.3 1155.9 L 1507.3 1163.9 L 1565.6 1163.9 L 1565.6 1163.9 L 1565.6 1147.0 L 1623.9 1147.0 L 1623.9 1147.0 L 1623.9 1053.1 L 1682.2 1053.1 L 1682.2 1053.1 L 1682.2 1169.7 L 1740.6 1169.7 L 1740.6 1169.7 L 1740.6 1163.9 L 1798.9 1163.9 L 1798.9 1163.9 L 1798.9 1169.7 L 1857.2 1169.7 L 1857.2 1169.7 L 1857.2 1169.7 L 1915.6 1169.7 L 1915.6 1169.7 L 1915.6 810.0 L 1973.9 810.0 L 1973.9 810.0 L 1973.9 1169.7 L 2020.4 1169.7 L 2020.4 1169.7 L 2020.4 1169.7" fill="none" stroke="#000" stroke-width="2.7" stroke-linejoin="round"/>
<line x1="155.5" y1="1168.7" x2="2020.4" y2="1168.7" stroke="#0000c0" stroke-width="1.3" stroke-dasharray="7 7"/>
<line x1="155.5" y1="1066.5" x2="2020.4" y2="1066.5" stroke="#0000c0" stroke-width="1.3" stroke-dasharray="7 7"/>
<line x1="155.5" y1="963.3" x2="2020.4" y2="963.3" stroke="#0000c0" stroke-width="1.3" stroke-dasharray="7 7"/>
<line x1="155.5" y1="860.1" x2="2020.4" y2="860.1" stroke="#0000c0" stroke-width="1.3" stroke-dasharray="7 7"/>
<line x1="155.5" y1="810.0" x2="155.5" y2="1169.7" stroke="#0a0aa8" stroke-width="1.8"/>
<line x1="155.5" y1="1169.7" x2="184" y2="1169.7" stroke="#0a0aa8" stroke-width="1.6"/>
<line x1="155.5" y1="1143.9" x2="184" y2="1143.9" stroke="#0a0aa8" stroke-width="1.6"/>
<line x1="155.5" y1="1118.1" x2="184" y2="1118.1" stroke="#0a0aa8" stroke-width="1.6"/>
<line x1="155.5" y1="1092.3" x2="184" y2="1092.3" stroke="#0a0aa8" stroke-width="1.6"/>
<line x1="155.5" y1="1066.5" x2="184" y2="1066.5" stroke="#0a0aa8" stroke-width="1.6"/>
<line x1="155.5" y1="1040.7" x2="184" y2="1040.7" stroke="#0a0aa8" stroke-width="1.6"/>
<line x1="155.5" y1="1014.9" x2="184" y2="1014.9" stroke="#0a0aa8" stroke-width="1.6"/>
<line x1="155.5" y1="989.1" x2="184" y2="989.1" stroke="#0a0aa8" stroke-width="1.6"/>
<line x1="155.5" y1="963.3" x2="184" y2="963.3" stroke="#0a0aa8" stroke-width="1.6"/>
<line x1="155.5" y1="937.5" x2="184" y2="937.5" stroke="#0a0aa8" stroke-width="1.6"/>
<line x1="155.5" y1="911.7" x2="184" y2="911.7" stroke="#0a0aa8" stroke-width="1.6"/>
<line x1="155.5" y1="885.9" x2="184" y2="885.9" stroke="#0a0aa8" stroke-width="1.6"/>
<line x1="155.5" y1="860.1" x2="184" y2="860.1" stroke="#0a0aa8" stroke-width="1.6"/>
<line x1="155.5" y1="834.3" x2="184" y2="834.3" stroke="#0a0aa8" stroke-width="1.6"/>
<line x1="155.5" y1="808.5" x2="184" y2="808.5" stroke="#0a0aa8" stroke-width="1.6"/>
<line x1="155.5" y1="809.5" x2="184" y2="809.5" stroke="#0a0aa8" stroke-width="1.6"/>
<text x="142.5" y="876.4" font-size="32.0" fill="#0a0aa8" textLength="40.6" lengthAdjust="spacingAndGlyphs" text-anchor="end"  stroke="#0a0aa8" stroke-width="0.40">15</text>
<text x="142.5" y="979.5" font-size="32.0" fill="#0a0aa8" textLength="40.6" lengthAdjust="spacingAndGlyphs" text-anchor="end"  stroke="#0a0aa8" stroke-width="0.40">10</text>
<text x="142.5" y="1083.0" font-size="32.0" fill="#0a0aa8" textLength="20.3" lengthAdjust="spacingAndGlyphs" text-anchor="end"  stroke="#0a0aa8" stroke-width="0.40">5</text>
<text x="142.5" y="1170.5" font-size="32.0" fill="#0a0aa8" textLength="20.3" lengthAdjust="spacingAndGlyphs" text-anchor="end"  stroke="#0a0aa8" stroke-width="0.40">0</text>
<text transform="translate(45,1103) rotate(-90)" font-size="33.5" fill="#0a0aa8" stroke="#0a0aa8" stroke-width="0.35" textLength="214" lengthAdjust="spacingAndGlyphs">Осадки (mm)</text>
<text transform="translate(2087.7,1141.7) rotate(-90)" font-size="33.5" fill="#707070" stroke="#707070" stroke-width="0.35" textLength="291.7" lengthAdjust="spacingAndGlyphs">Облачный покров</text>
<line x1="2020.4" y1="1295.3" x2="2020.4" y2="1709.2" stroke="#7050a8" stroke-width="2.4"/>
<line x1="1982.4" y1="1605.7" x2="2020.4" y2="1605.7" stroke="#7050a8" stroke-width="1.6"/>
<line x1="1982.4" y1="1502.2" x2="2020.4" y2="1502.2" stroke="#7050a8" stroke-width="1.6"/>
<line x1="1982.4" y1="1398.8" x2="2020.4" y2="1398.8" stroke="#7050a8" stroke-width="1.6"/>
<line x1="194.0" y1="1295.3" x2="2020.4" y2="1295.3" stroke="#000" stroke-width="2.2"/>
<line x1="155.5" y1="1295.3" x2="194" y2="1295.3" stroke="#407070" stroke-width="2.2"/>
<line x1="202.2" y1="1295.3" x2="202.2" y2="1303.3" stroke="#000" stroke-width="2.4"/>
<line x1="260.5" y1="1295.3" x2="260.5" y2="1299.8" stroke="#000" stroke-width="2.4"/>
<line x1="318.9" y1="1295.3" x2="318.9" y2="1303.3" stroke="#000" stroke-width="2.4"/>
<line x1="377.2" y1="1295.3" x2="377.2" y2="1299.8" stroke="#000" stroke-width="2.4"/>
<line x1="435.5" y1="1295.3" x2="435.5" y2="1303.3" stroke="#000" stroke-width="2.4"/>
<line x1="493.8" y1="1295.3" x2="493.8" y2="1299.8" stroke="#000" stroke-width="2.4"/>
<line x1="552.2" y1="1295.3" x2="552.2" y2="1303.3" stroke="#000" stroke-width="2.4"/>
<line x1="610.5" y1="1295.3" x2="610.5" y2="1299.8" stroke="#000" stroke-width="2.4"/>
<line x1="668.8" y1="1295.3" x2="668.8" y2="1303.3" stroke="#000" stroke-width="2.4"/>
<line x1="727.2" y1="1295.3" x2="727.2" y2="1299.8" stroke="#000" stroke-width="2.4"/>
<line x1="785.5" y1="1295.3" x2="785.5" y2="1303.3" stroke="#000" stroke-width="2.4"/>
<line x1="843.8" y1="1295.3" x2="843.8" y2="1299.8" stroke="#000" stroke-width="2.4"/>
<line x1="902.2" y1="1295.3" x2="902.2" y2="1303.3" stroke="#000" stroke-width="2.4"/>
<line x1="960.5" y1="1295.3" x2="960.5" y2="1299.8" stroke="#000" stroke-width="2.4"/>
<line x1="1018.8" y1="1295.3" x2="1018.8" y2="1303.3" stroke="#000" stroke-width="2.4"/>
<line x1="1077.1" y1="1295.3" x2="1077.1" y2="1299.8" stroke="#000" stroke-width="2.4"/>
<line x1="1135.5" y1="1295.3" x2="1135.5" y2="1303.3" stroke="#000" stroke-width="2.4"/>
<line x1="1193.8" y1="1295.3" x2="1193.8" y2="1299.8" stroke="#000" stroke-width="2.4"/>
<line x1="1252.1" y1="1295.3" x2="1252.1" y2="1303.3" stroke="#000" stroke-width="2.4"/>
<line x1="1310.5" y1="1295.3" x2="1310.5" y2="1299.8" stroke="#000" stroke-width="2.4"/>
<line x1="1368.8" y1="1295.3" x2="1368.8" y2="1303.3" stroke="#000" stroke-width="2.4"/>
<line x1="1427.1" y1="1295.3" x2="1427.1" y2="1299.8" stroke="#000" stroke-width="2.4"/>
<line x1="1485.5" y1="1295.3" x2="1485.5" y2="1303.3" stroke="#000" stroke-width="2.4"/>
<line x1="1543.8" y1="1295.3" x2="1543.8" y2="1299.8" stroke="#000" stroke-width="2.4"/>
<line x1="1602.1" y1="1295.3" x2="1602.1" y2="1303.3" stroke="#000" stroke-width="2.4"/>
<line x1="1660.5" y1="1295.3" x2="1660.5" y2="1299.8" stroke="#000" stroke-width="2.4"/>
<line x1="1718.8" y1="1295.3" x2="1718.8" y2="1303.3" stroke="#000" stroke-width="2.4"/>
<line x1="1777.1" y1="1295.3" x2="1777.1" y2="1299.8" stroke="#000" stroke-width="2.4"/>
<line x1="1835.4" y1="1295.3" x2="1835.4" y2="1303.3" stroke="#000" stroke-width="2.4"/>
<line x1="1893.8" y1="1295.3" x2="1893.8" y2="1299.8" stroke="#000" stroke-width="2.4"/>
<line x1="1952.1" y1="1295.3" x2="1952.1" y2="1303.3" stroke="#000" stroke-width="2.4"/>
<line x1="2010.4" y1="1295.3" x2="2010.4" y2="1299.8" stroke="#000" stroke-width="2.4"/>
<polygon points="155.5,1461.2 195.7,1461.2 254.0,1419.3 312.4,1483.0 370.7,1424.7 429.0,1511.5 487.3,1501.0 545.7,1452.0 604.0,1465.7 662.3,1519.3 720.7,1474.9 779.0,1549.4 837.3,1537.6 895.7,1429.1 954.0,1380.7 1012.3,1539.0 1070.6,1581.0 1129.0,1570.3 1187.3,1535.0 1245.6,1429.1 1304.0,1362.4 1362.3,1502.3 1420.6,1558.6 1479.0,1383.3 1537.3,1541.6 1595.6,1527.2 1654.0,1520.8 1712.3,1438.4 1770.6,1458.7 1828.9,1446.0 1887.3,1451.1 1945.6,1541.1 1993.0,1566.4 2020.4,1566.4 2020.4,1652.6 1993.0,1652.6 1945.6,1666.6 1887.3,1683.0 1828.9,1640.0 1770.6,1659.0 1712.3,1651.4 1654.0,1617.1 1595.6,1663.2 1537.3,1688.0 1479.0,1685.4 1420.6,1672.4 1362.3,1599.1 1304.0,1580.8 1245.6,1627.9 1187.3,1621.4 1129.0,1681.5 1070.6,1684.1 1012.3,1697.2 954.0,1684.1 895.7,1618.7 837.3,1697.2 779.0,1693.3 720.7,1595.2 662.3,1609.6 604.0,1612.2 545.7,1563.9 487.3,1611.8 429.0,1638.8 370.7,1679.2 312.4,1596.9 254.0,1563.9 195.7,1629.8 155.5,1629.8" fill="#e0f0f8"/>
<clipPath id="wc"><rect x="150" y="1293" width="1871" height="420"/></clipPath><g clip-path="url(#wc)" fill="#7050a8">
<circle cx="154.0" cy="1459.0" r="4.5"/>
<circle cx="163.5" cy="1445.4" r="4.5"/>
<circle cx="165.2" cy="1421.0" r="4.5"/>
<circle cx="167.6" cy="1410.0" r="4.5"/>
<circle cx="193.0" cy="1348.0" r="4.5"/>
<circle cx="196.5" cy="1373.2" r="4.5"/>
<circle cx="199.0" cy="1421.0" r="4.5"/>
<circle cx="201.4" cy="1436.9" r="4.5"/>
<circle cx="203.9" cy="1444.0" r="4.5"/>
<circle cx="219.8" cy="1425.9" r="4.5"/>
<circle cx="222.2" cy="1416.0" r="4.5"/>
<circle cx="225.9" cy="1402.6" r="4.5"/>
<circle cx="228.3" cy="1392.8" r="4.5"/>
<circle cx="272.4" cy="1423.4" r="4.5"/>
<circle cx="276.1" cy="1410.0" r="4.5"/>
<circle cx="279.7" cy="1395.3" r="4.5"/>
<circle cx="283.4" cy="1384.2" r="4.5"/>
<circle cx="284.6" cy="1376.9" r="4.5"/>
<circle cx="287.1" cy="1363.4" r="4.5"/>
<circle cx="289.5" cy="1346.3" r="4.5"/>
<circle cx="292.0" cy="1331.6" r="4.5"/>
<circle cx="294.4" cy="1316.9" r="4.5"/>
<circle cx="296.9" cy="1301.0" r="4.5"/>
<circle cx="298.1" cy="1706.2" r="4.5"/>
<circle cx="301.8" cy="1691.5" r="4.5"/>
<circle cx="303.7" cy="1681.7" r="4.5"/>
<circle cx="305.4" cy="1670.7" r="4.5"/>
<circle cx="307.9" cy="1659.6" r="4.5"/>
<circle cx="311.6" cy="1647.4" r="4.5"/>
<circle cx="318.9" cy="1589.9" r="4.5"/>
<circle cx="321.4" cy="1582.5" r="4.5"/>
<circle cx="329.9" cy="1553.2" r="4.5"/>
<circle cx="337.3" cy="1589.9" r="4.5"/>
<circle cx="375.2" cy="1600.9" r="4.5"/>
<circle cx="378.9" cy="1585.0" r="4.5"/>
<circle cx="381.3" cy="1569.1" r="4.5"/>
<circle cx="392.4" cy="1525.0" r="4.5"/>
<circle cx="389.0" cy="1527.0" r="4.5"/>
<circle cx="392.4" cy="1505.4" r="4.5"/>
<circle cx="393.6" cy="1498.1" r="4.5"/>
<circle cx="417.1" cy="1657.2" r="4.5"/>
<circle cx="460.0" cy="1636.4" r="4.5"/>
<circle cx="462.4" cy="1649.9" r="4.5"/>
<circle cx="456.3" cy="1605.8" r="4.5"/>
<circle cx="429.4" cy="1605.8" r="4.5"/>
<circle cx="433.0" cy="1593.5" r="4.5"/>
<circle cx="435.5" cy="1560.5" r="4.5"/>
<circle cx="436.7" cy="1537.2" r="4.5"/>
<circle cx="440.4" cy="1520.1" r="4.5"/>
<circle cx="488.1" cy="1585.0" r="4.5"/>
<circle cx="491.8" cy="1561.7" r="4.5"/>
<circle cx="497.9" cy="1525.0" r="4.5"/>
<circle cx="544.4" cy="1603.3" r="4.5"/>
<circle cx="546.9" cy="1581.3" r="4.5"/>
<circle cx="571.4" cy="1551.9" r="4.5"/>
<circle cx="606.9" cy="1553.2" r="4.5"/>
<circle cx="605.6" cy="1578.9" r="4.5"/>
<circle cx="632.6" cy="1581.3" r="4.5"/>
<circle cx="635.0" cy="1605.8" r="4.5"/>
<circle cx="663.2" cy="1574.0" r="4.5"/>
<circle cx="665.6" cy="1485.8" r="4.5"/>
<circle cx="668.1" cy="1467.5" r="4.5"/>
<circle cx="688.2" cy="1450.3" r="4.5"/>
<circle cx="689.4" cy="1425.9" r="4.5"/>
<circle cx="693.0" cy="1406.3" r="4.5"/>
<circle cx="695.5" cy="1392.8" r="4.5"/>
<circle cx="718.8" cy="1390.4" r="4.5"/>
<circle cx="722.4" cy="1407.5" r="4.5"/>
<circle cx="749.4" cy="1425.9" r="4.5"/>
<circle cx="751.8" cy="1413.6" r="4.5"/>
<circle cx="762.8" cy="1376.9" r="4.5"/>
<circle cx="766.5" cy="1363.4" r="4.5"/>
<circle cx="767.7" cy="1351.2" r="4.5"/>
<circle cx="771.4" cy="1342.6" r="4.5"/>
<circle cx="772.6" cy="1330.4" r="4.5"/>
<circle cx="775.1" cy="1309.6" r="4.5"/>
<circle cx="778.7" cy="1296.1" r="4.5"/>
<circle cx="783.6" cy="1509.1" r="4.5"/>
<circle cx="784.8" cy="1489.5" r="4.5"/>
<circle cx="805.7" cy="1438.1" r="4.5"/>
<circle cx="806.9" cy="1397.7" r="4.5"/>
<circle cx="809.3" cy="1367.1" r="4.5"/>
<circle cx="836.3" cy="1329.2" r="4.5"/>
<circle cx="836.3" cy="1313.3" r="4.5"/>
<circle cx="841.2" cy="1636.4" r="4.5"/>
<circle cx="842.4" cy="1485.8" r="4.5"/>
<circle cx="846.0" cy="1476.0" r="4.5"/>
<circle cx="863.2" cy="1439.3" r="4.5"/>
<circle cx="864.4" cy="1373.2" r="4.5"/>
<circle cx="868.1" cy="1345.1" r="4.5"/>
<circle cx="870.5" cy="1317.0" r="4.5"/>
<circle cx="873.0" cy="1302.2" r="4.5"/>
<circle cx="875.4" cy="1295.0" r="4.5"/>
<circle cx="876.6" cy="1701.3" r="4.5"/>
<circle cx="880.3" cy="1691.5" r="4.5"/>
<circle cx="881.5" cy="1679.2" r="4.5"/>
<circle cx="884.0" cy="1667.0" r="4.5"/>
<circle cx="957.9" cy="1564.2" r="4.5"/>
<circle cx="975.0" cy="1501.7" r="4.5"/>
<circle cx="967.7" cy="1534.8" r="4.5"/>
<circle cx="982.4" cy="1592.3" r="4.5"/>
<circle cx="983.6" cy="1645.0" r="4.5"/>
<circle cx="987.3" cy="1304.7" r="4.5"/>
<circle cx="999.6" cy="1329.2" r="4.5"/>
<circle cx="1000.8" cy="1315.7" r="4.5"/>
<circle cx="1015.5" cy="1674.3" r="4.5"/>
<circle cx="1019.1" cy="1647.4" r="4.5"/>
<circle cx="1022.8" cy="1613.1" r="4.5"/>
<circle cx="1026.5" cy="1605.8" r="4.5"/>
<circle cx="1028.9" cy="1588.7" r="4.5"/>
<circle cx="1032.6" cy="1583.8" r="4.5"/>
<circle cx="1036.3" cy="1678.0" r="4.5"/>
<circle cx="1052.2" cy="1676.8" r="4.5"/>
<circle cx="1057.1" cy="1703.7" r="4.5"/>
<circle cx="1045.0" cy="1695.0" r="4.5"/>
<circle cx="1038.7" cy="1316.9" r="4.5"/>
<circle cx="1040.0" cy="1296.1" r="4.5"/>
<circle cx="1060.8" cy="1307.1" r="4.5"/>
<circle cx="1062.0" cy="1314.5" r="4.5"/>
<circle cx="1065.7" cy="1329.2" r="4.5"/>
<circle cx="1066.9" cy="1296.1" r="4.5"/>
<circle cx="1070.6" cy="1665.8" r="4.5"/>
<circle cx="1071.8" cy="1592.3" r="4.5"/>
<circle cx="1074.2" cy="1398.9" r="4.5"/>
<circle cx="1077.9" cy="1416.1" r="4.5"/>
<circle cx="1096.3" cy="1405.1" r="4.5"/>
<circle cx="1099.9" cy="1329.2" r="4.5"/>
<circle cx="1101.2" cy="1316.9" r="4.5"/>
<circle cx="1104.8" cy="1307.1" r="4.5"/>
<circle cx="1107.3" cy="1296.1" r="4.5"/>
<circle cx="1128.1" cy="1667.0" r="4.5"/>
<circle cx="1133.0" cy="1395.3" r="4.5"/>
<circle cx="1135.4" cy="1416.1" r="4.5"/>
<circle cx="1151.3" cy="1471.2" r="4.5"/>
<circle cx="1155.0" cy="1451.6" r="4.5"/>
<circle cx="1158.7" cy="1294.9" r="4.5"/>
<circle cx="1162.0" cy="1304.0" r="4.5"/>
<circle cx="1164.8" cy="1309.6" r="4.5"/>
<circle cx="1169.7" cy="1324.3" r="4.5"/>
<circle cx="1172.1" cy="1332.8" r="4.5"/>
<circle cx="1174.6" cy="1342.6" r="4.5"/>
<circle cx="1179.5" cy="1357.3" r="4.5"/>
<circle cx="1183.7" cy="1358.5" r="4.5"/>
<circle cx="1186.1" cy="1375.7" r="4.5"/>
<circle cx="1188.6" cy="1398.9" r="4.5"/>
<circle cx="1213.0" cy="1447.9" r="4.5"/>
<circle cx="1215.5" cy="1412.4" r="4.5"/>
<circle cx="1217.9" cy="1364.7" r="4.5"/>
<circle cx="1220.4" cy="1313.3" r="4.5"/>
<circle cx="1222.8" cy="1700.0" r="4.5"/>
<circle cx="1319.5" cy="1570.3" r="4.5"/>
<circle cx="1322.0" cy="1553.2" r="4.5"/>
<circle cx="1326.9" cy="1549.5" r="4.5"/>
<circle cx="1329.3" cy="1576.4" r="4.5"/>
<circle cx="1334.2" cy="1605.8" r="4.5"/>
<circle cx="1364.8" cy="1589.9" r="4.5"/>
<circle cx="1366.0" cy="1567.8" r="4.5"/>
<circle cx="1395.4" cy="1605.8" r="4.5"/>
<circle cx="1400.3" cy="1613.1" r="4.5"/>
<circle cx="1428.5" cy="1571.5" r="4.5"/>
<circle cx="1432.1" cy="1493.2" r="4.5"/>
<circle cx="1435.8" cy="1466.3" r="4.5"/>
<circle cx="1441.9" cy="1456.5" r="4.5"/>
<circle cx="1444.9" cy="1436.9" r="4.5"/>
<circle cx="1479.2" cy="1410.0" r="4.5"/>
<circle cx="1507.3" cy="1302.2" r="4.5"/>
<circle cx="1509.8" cy="1696.4" r="4.5"/>
<circle cx="1525.7" cy="1698.8" r="4.5"/>
<circle cx="1536.7" cy="1668.2" r="4.5"/>
<circle cx="1539.1" cy="1640.0" r="4.5"/>
<circle cx="1541.6" cy="1397.7" r="4.5"/>
<circle cx="1544.0" cy="1434.4" r="4.5"/>
<circle cx="1546.5" cy="1468.7" r="4.5"/>
<circle cx="1548.9" cy="1479.7" r="4.5"/>
<circle cx="1563.6" cy="1554.4" r="4.5"/>
<circle cx="1566.1" cy="1629.0" r="4.5"/>
<circle cx="1571.0" cy="1621.7" r="4.5"/>
<circle cx="1578.3" cy="1648.6" r="4.5"/>
<circle cx="1583.2" cy="1679.2" r="4.5"/>
<circle cx="1584.4" cy="1684.1" r="4.5"/>
<circle cx="1594.2" cy="1647.4" r="4.5"/>
<circle cx="1596.7" cy="1630.3" r="4.5"/>
<circle cx="1601.6" cy="1587.4" r="4.5"/>
<circle cx="1604.0" cy="1567.8" r="4.5"/>
<circle cx="1607.7" cy="1549.5" r="4.5"/>
<circle cx="1608.9" cy="1515.2" r="4.5"/>
<circle cx="1613.8" cy="1446.7" r="4.5"/>
<circle cx="1615.0" cy="1458.9" r="4.5"/>
<circle cx="1618.7" cy="1488.3" r="4.5"/>
<circle cx="1621.2" cy="1572.7" r="4.5"/>
<circle cx="1624.8" cy="1600.9" r="4.5"/>
<circle cx="1626.0" cy="1611.9" r="4.5"/>
<circle cx="1628.5" cy="1625.4" r="4.5"/>
<circle cx="1635.8" cy="1651.1" r="4.5"/>
<circle cx="1638.3" cy="1674.3" r="4.5"/>
<circle cx="1640.7" cy="1691.5" r="4.5"/>
<circle cx="1643.2" cy="1703.7" r="4.5"/>
<circle cx="1645.6" cy="1298.6" r="4.5"/>
<circle cx="1648.1" cy="1308.4" r="4.5"/>
<circle cx="1650.5" cy="1318.2" r="4.5"/>
<circle cx="1653.0" cy="1329.2" r="4.5"/>
<circle cx="1655.4" cy="1340.2" r="4.5"/>
<circle cx="1679.9" cy="1413.6" r="4.5"/>
<circle cx="1682.4" cy="1390.4" r="4.5"/>
<circle cx="1684.8" cy="1378.1" r="4.5"/>
<circle cx="1687.2" cy="1368.3" r="4.5"/>
<circle cx="1697.0" cy="1334.1" r="4.5"/>
<circle cx="1700.7" cy="1324.3" r="4.5"/>
<circle cx="1703.2" cy="1313.3" r="4.5"/>
<circle cx="1706.8" cy="1302.2" r="4.5"/>
<circle cx="1709.3" cy="1294.9" r="4.5"/>
<circle cx="1711.7" cy="1703.7" r="4.5"/>
<circle cx="1715.4" cy="1362.2" r="4.5"/>
<circle cx="1717.8" cy="1397.7" r="4.5"/>
<circle cx="1719.1" cy="1413.6" r="4.5"/>
<circle cx="1755.1" cy="1301.0" r="4.5"/>
<circle cx="1752.6" cy="1313.3" r="4.5"/>
<circle cx="1750.2" cy="1324.3" r="4.5"/>
<circle cx="1747.7" cy="1339.0" r="4.5"/>
<circle cx="1745.3" cy="1357.3" r="4.5"/>
<circle cx="1742.8" cy="1381.8" r="4.5"/>
<circle cx="1741.6" cy="1401.4" r="4.5"/>
<circle cx="1737.9" cy="1414.8" r="4.5"/>
<circle cx="1758.8" cy="1703.7" r="4.5"/>
<circle cx="1760.0" cy="1692.7" r="4.5"/>
<circle cx="1762.4" cy="1681.7" r="4.5"/>
<circle cx="1764.9" cy="1670.7" r="4.5"/>
<circle cx="1771.0" cy="1571.5" r="4.5"/>
<circle cx="1777.1" cy="1605.8" r="4.5"/>
<circle cx="1772.2" cy="1630.3" r="4.5"/>
<circle cx="1782.0" cy="1540.9" r="4.5"/>
<circle cx="1784.5" cy="1526.2" r="4.5"/>
<circle cx="1796.7" cy="1592.3" r="4.5"/>
<circle cx="1832.2" cy="1603.3" r="4.5"/>
<circle cx="1834.6" cy="1581.3" r="4.5"/>
<circle cx="1839.5" cy="1549.5" r="4.5"/>
<circle cx="1843.2" cy="1538.5" r="4.5"/>
<circle cx="1854.2" cy="1605.8" r="4.5"/>
<circle cx="1890.9" cy="1624.1" r="4.5"/>
<circle cx="1894.6" cy="1609.5" r="4.5"/>
<circle cx="1895.8" cy="1594.8" r="4.5"/>
<circle cx="1903.2" cy="1436.9" r="4.5"/>
<circle cx="1906.0" cy="1433.7" r="4.5"/>
<circle cx="1910.5" cy="1427.1" r="4.5"/>
<circle cx="1913.0" cy="1403.8" r="4.5"/>
<circle cx="1949.7" cy="1505.4" r="4.5"/>
<circle cx="1952.1" cy="1493.2" r="4.5"/>
<circle cx="1955.8" cy="1483.4" r="4.5"/>
<circle cx="1957.0" cy="1469.9" r="4.5"/>
<circle cx="1989.9" cy="1424.8" r="4.5"/>
<circle cx="1992.9" cy="1412.8" r="4.5"/>
<circle cx="1995.9" cy="1400.8" r="4.5"/>
<circle cx="1998.9" cy="1376.8" r="4.5"/>
<circle cx="2003.4" cy="1361.8" r="4.5"/>
<circle cx="2003.4" cy="1352.8" r="4.5"/>
<circle cx="2007.9" cy="1435.2" r="4.5"/>
<circle cx="170.0" cy="1397.0" r="4.5"/>
<circle cx="170.9" cy="1394.8" r="4.5"/>
<circle cx="171.8" cy="1392.5" r="4.5"/>
<circle cx="172.8" cy="1390.2" r="4.5"/>
<circle cx="173.7" cy="1388.0" r="4.5"/>
<circle cx="174.6" cy="1385.8" r="4.5"/>
<circle cx="175.5" cy="1383.5" r="4.5"/>
<circle cx="176.4" cy="1381.2" r="4.5"/>
<circle cx="177.3" cy="1379.0" r="4.5"/>
<circle cx="178.2" cy="1376.8" r="4.5"/>
<circle cx="179.2" cy="1374.5" r="4.5"/>
<circle cx="180.1" cy="1372.2" r="4.5"/>
<circle cx="181.0" cy="1370.0" r="4.5"/>
<circle cx="181.0" cy="1370.0" r="4.5"/>
<circle cx="182.0" cy="1367.7" r="4.5"/>
<circle cx="183.0" cy="1365.4" r="4.5"/>
<circle cx="183.9" cy="1363.2" r="4.5"/>
<circle cx="184.9" cy="1360.9" r="4.5"/>
<circle cx="185.9" cy="1358.6" r="4.5"/>
<circle cx="186.9" cy="1356.3" r="4.5"/>
<circle cx="187.9" cy="1354.0" r="4.5"/>
<circle cx="188.9" cy="1351.7" r="4.5"/>
<circle cx="189.9" cy="1349.4" r="4.5"/>
<circle cx="190.8" cy="1347.2" r="4.5"/>
<circle cx="191.8" cy="1344.9" r="4.5"/>
<circle cx="192.8" cy="1342.6" r="4.5"/>
<circle cx="229.6" cy="1384.2" r="4.5"/>
<circle cx="231.4" cy="1382.1" r="4.5"/>
<circle cx="233.2" cy="1380.0" r="4.5"/>
<circle cx="235.1" cy="1377.8" r="4.5"/>
<circle cx="236.9" cy="1375.7" r="4.5"/>
<circle cx="236.9" cy="1375.7" r="4.5"/>
<circle cx="239.1" cy="1377.2" r="4.5"/>
<circle cx="241.3" cy="1378.6" r="4.5"/>
<circle cx="243.5" cy="1380.1" r="4.5"/>
<circle cx="245.7" cy="1381.5" r="4.5"/>
<circle cx="247.9" cy="1383.0" r="4.5"/>
<circle cx="247.9" cy="1383.0" r="4.5"/>
<circle cx="249.0" cy="1385.5" r="4.5"/>
<circle cx="250.0" cy="1387.9" r="4.5"/>
<circle cx="251.1" cy="1390.4" r="4.5"/>
<circle cx="252.1" cy="1392.8" r="4.5"/>
<circle cx="253.2" cy="1395.3" r="4.5"/>
<circle cx="254.2" cy="1397.7" r="4.5"/>
<circle cx="255.3" cy="1400.2" r="4.5"/>
<circle cx="339.7" cy="1604.6" r="4.5"/>
<circle cx="341.4" cy="1606.4" r="4.5"/>
<circle cx="343.1" cy="1608.3" r="4.5"/>
<circle cx="344.8" cy="1610.1" r="4.5"/>
<circle cx="346.4" cy="1611.9" r="4.5"/>
<circle cx="348.1" cy="1613.8" r="4.5"/>
<circle cx="349.8" cy="1615.6" r="4.5"/>
<circle cx="351.5" cy="1617.5" r="4.5"/>
<circle cx="353.2" cy="1619.3" r="4.5"/>
<circle cx="353.2" cy="1619.3" r="4.5"/>
<circle cx="355.9" cy="1620.3" r="4.5"/>
<circle cx="358.6" cy="1621.2" r="4.5"/>
<circle cx="361.2" cy="1622.2" r="4.5"/>
<circle cx="363.9" cy="1623.1" r="4.5"/>
<circle cx="366.6" cy="1624.1" r="4.5"/>
<circle cx="366.6" cy="1624.1" r="4.5"/>
<circle cx="367.6" cy="1621.9" r="4.5"/>
<circle cx="368.6" cy="1619.7" r="4.5"/>
<circle cx="369.5" cy="1617.5" r="4.5"/>
<circle cx="370.5" cy="1615.3" r="4.5"/>
<circle cx="371.5" cy="1613.1" r="4.5"/>
<circle cx="398.5" cy="1631.5" r="4.5"/>
<circle cx="399.1" cy="1634.0" r="4.5"/>
<circle cx="399.7" cy="1636.4" r="4.5"/>
<circle cx="400.3" cy="1638.8" r="4.5"/>
<circle cx="400.9" cy="1641.3" r="4.5"/>
<circle cx="400.9" cy="1641.3" r="4.5"/>
<circle cx="402.1" cy="1643.5" r="4.5"/>
<circle cx="403.3" cy="1645.7" r="4.5"/>
<circle cx="404.6" cy="1647.9" r="4.5"/>
<circle cx="405.8" cy="1650.1" r="4.5"/>
<circle cx="407.0" cy="1652.3" r="4.5"/>
<circle cx="464.9" cy="1649.9" r="4.5"/>
<circle cx="466.9" cy="1648.5" r="4.5"/>
<circle cx="469.0" cy="1647.2" r="4.5"/>
<circle cx="471.0" cy="1645.8" r="4.5"/>
<circle cx="473.0" cy="1644.4" r="4.5"/>
<circle cx="475.1" cy="1643.1" r="4.5"/>
<circle cx="477.1" cy="1641.7" r="4.5"/>
<circle cx="479.1" cy="1640.3" r="4.5"/>
<circle cx="481.2" cy="1639.0" r="4.5"/>
<circle cx="483.2" cy="1637.6" r="4.5"/>
<circle cx="447.0" cy="1502.0" r="4.5"/>
<circle cx="449.8" cy="1500.0" r="4.5"/>
<circle cx="452.6" cy="1498.0" r="4.5"/>
<circle cx="501.0" cy="1522.0" r="4.5"/>
<circle cx="503.1" cy="1519.2" r="4.5"/>
<circle cx="505.3" cy="1516.4" r="4.5"/>
<circle cx="505.3" cy="1516.4" r="4.5"/>
<circle cx="507.8" cy="1517.7" r="4.5"/>
<circle cx="510.2" cy="1518.9" r="4.5"/>
<circle cx="517.5" cy="1594.8" r="4.5"/>
<circle cx="518.5" cy="1597.5" r="4.5"/>
<circle cx="519.5" cy="1600.2" r="4.5"/>
<circle cx="520.4" cy="1602.8" r="4.5"/>
<circle cx="521.4" cy="1605.5" r="4.5"/>
<circle cx="522.4" cy="1608.2" r="4.5"/>
<circle cx="522.4" cy="1608.2" r="4.5"/>
<circle cx="524.0" cy="1610.2" r="4.5"/>
<circle cx="525.7" cy="1612.3" r="4.5"/>
<circle cx="527.3" cy="1614.3" r="4.5"/>
<circle cx="528.9" cy="1616.4" r="4.5"/>
<circle cx="530.6" cy="1618.5" r="4.5"/>
<circle cx="532.2" cy="1620.5" r="4.5"/>
<circle cx="532.2" cy="1620.5" r="4.5"/>
<circle cx="534.6" cy="1620.7" r="4.5"/>
<circle cx="537.1" cy="1621.0" r="4.5"/>
<circle cx="539.5" cy="1621.2" r="4.5"/>
<circle cx="542.0" cy="1621.5" r="4.5"/>
<circle cx="544.4" cy="1621.7" r="4.5"/>
<circle cx="551.8" cy="1552.0" r="4.5"/>
<circle cx="552.6" cy="1549.5" r="4.5"/>
<circle cx="553.4" cy="1547.1" r="4.5"/>
<circle cx="554.2" cy="1544.6" r="4.5"/>
<circle cx="555.1" cy="1542.1" r="4.5"/>
<circle cx="555.9" cy="1539.7" r="4.5"/>
<circle cx="556.7" cy="1537.2" r="4.5"/>
<circle cx="556.7" cy="1537.2" r="4.5"/>
<circle cx="559.1" cy="1536.0" r="4.5"/>
<circle cx="561.6" cy="1534.8" r="4.5"/>
<circle cx="564.0" cy="1533.5" r="4.5"/>
<circle cx="566.5" cy="1532.3" r="4.5"/>
<circle cx="568.9" cy="1531.1" r="4.5"/>
<circle cx="581.1" cy="1605.8" r="4.5"/>
<circle cx="582.7" cy="1607.7" r="4.5"/>
<circle cx="584.4" cy="1609.6" r="4.5"/>
<circle cx="586.0" cy="1611.5" r="4.5"/>
<circle cx="587.6" cy="1613.4" r="4.5"/>
<circle cx="589.3" cy="1615.3" r="4.5"/>
<circle cx="590.9" cy="1617.2" r="4.5"/>
<circle cx="592.5" cy="1619.1" r="4.5"/>
<circle cx="594.2" cy="1621.0" r="4.5"/>
<circle cx="595.8" cy="1622.9" r="4.5"/>
<circle cx="595.8" cy="1622.9" r="4.5"/>
<circle cx="598.2" cy="1624.8" r="4.5"/>
<circle cx="600.7" cy="1626.6" r="4.5"/>
<circle cx="615.4" cy="1520.1" r="4.5"/>
<circle cx="616.9" cy="1518.1" r="4.5"/>
<circle cx="618.4" cy="1516.2" r="4.5"/>
<circle cx="619.8" cy="1514.2" r="4.5"/>
<circle cx="621.3" cy="1512.3" r="4.5"/>
<circle cx="622.8" cy="1510.3" r="4.5"/>
<circle cx="622.8" cy="1510.3" r="4.5"/>
<circle cx="625.2" cy="1511.9" r="4.5"/>
<circle cx="627.7" cy="1513.6" r="4.5"/>
<circle cx="630.1" cy="1515.2" r="4.5"/>
<circle cx="639.9" cy="1622.9" r="4.5"/>
<circle cx="640.6" cy="1625.3" r="4.5"/>
<circle cx="641.3" cy="1627.8" r="4.5"/>
<circle cx="642.0" cy="1630.2" r="4.5"/>
<circle cx="642.7" cy="1632.7" r="4.5"/>
<circle cx="643.4" cy="1635.1" r="4.5"/>
<circle cx="644.1" cy="1637.6" r="4.5"/>
<circle cx="644.8" cy="1640.0" r="4.5"/>
<circle cx="644.8" cy="1640.0" r="4.5"/>
<circle cx="646.0" cy="1642.5" r="4.5"/>
<circle cx="647.2" cy="1644.9" r="4.5"/>
<circle cx="648.5" cy="1647.4" r="4.5"/>
<circle cx="649.7" cy="1649.9" r="4.5"/>
<circle cx="650.9" cy="1652.3" r="4.5"/>
<circle cx="652.1" cy="1654.8" r="4.5"/>
<circle cx="652.1" cy="1654.8" r="4.5"/>
<circle cx="653.3" cy="1652.3" r="4.5"/>
<circle cx="654.6" cy="1649.9" r="4.5"/>
<circle cx="655.8" cy="1647.4" r="4.5"/>
<circle cx="657.0" cy="1644.9" r="4.5"/>
<circle cx="658.3" cy="1642.5" r="4.5"/>
<circle cx="659.5" cy="1640.0" r="4.5"/>
<circle cx="671.0" cy="1449.1" r="4.5"/>
<circle cx="672.6" cy="1446.7" r="4.5"/>
<circle cx="674.3" cy="1444.2" r="4.5"/>
<circle cx="675.9" cy="1441.8" r="4.5"/>
<circle cx="675.9" cy="1441.8" r="4.5"/>
<circle cx="676.8" cy="1444.1" r="4.5"/>
<circle cx="677.6" cy="1446.4" r="4.5"/>
<circle cx="678.5" cy="1448.8" r="4.5"/>
<circle cx="679.3" cy="1451.1" r="4.5"/>
<circle cx="680.2" cy="1453.4" r="4.5"/>
<circle cx="681.1" cy="1455.7" r="4.5"/>
<circle cx="681.9" cy="1458.0" r="4.5"/>
<circle cx="682.8" cy="1460.4" r="4.5"/>
<circle cx="683.6" cy="1462.7" r="4.5"/>
<circle cx="684.5" cy="1465.0" r="4.5"/>
<circle cx="699.2" cy="1375.7" r="4.5"/>
<circle cx="701.2" cy="1374.0" r="4.5"/>
<circle cx="703.1" cy="1372.3" r="4.5"/>
<circle cx="705.1" cy="1370.5" r="4.5"/>
<circle cx="707.0" cy="1368.8" r="4.5"/>
<circle cx="709.0" cy="1367.1" r="4.5"/>
<circle cx="709.0" cy="1367.1" r="4.5"/>
<circle cx="711.0" cy="1368.8" r="4.5"/>
<circle cx="712.9" cy="1370.5" r="4.5"/>
<circle cx="714.9" cy="1372.3" r="4.5"/>
<circle cx="716.8" cy="1374.0" r="4.5"/>
<circle cx="718.8" cy="1375.7" r="4.5"/>
<circle cx="723.6" cy="1429.5" r="4.5"/>
<circle cx="724.7" cy="1432.0" r="4.5"/>
<circle cx="725.7" cy="1434.4" r="4.5"/>
<circle cx="726.8" cy="1436.9" r="4.5"/>
<circle cx="727.8" cy="1439.3" r="4.5"/>
<circle cx="728.9" cy="1441.8" r="4.5"/>
<circle cx="729.9" cy="1444.2" r="4.5"/>
<circle cx="731.0" cy="1446.7" r="4.5"/>
<circle cx="731.0" cy="1446.7" r="4.5"/>
<circle cx="733.4" cy="1447.2" r="4.5"/>
<circle cx="735.9" cy="1447.7" r="4.5"/>
<circle cx="738.3" cy="1448.1" r="4.5"/>
<circle cx="740.8" cy="1448.6" r="4.5"/>
<circle cx="743.2" cy="1449.1" r="4.5"/>
<circle cx="743.2" cy="1449.1" r="4.5"/>
<circle cx="743.8" cy="1446.6" r="4.5"/>
<circle cx="744.5" cy="1444.2" r="4.5"/>
<circle cx="745.1" cy="1441.8" r="4.5"/>
<circle cx="745.7" cy="1439.3" r="4.5"/>
<circle cx="753.0" cy="1402.6" r="4.5"/>
<circle cx="754.1" cy="1400.4" r="4.5"/>
<circle cx="755.2" cy="1398.2" r="4.5"/>
<circle cx="756.3" cy="1396.1" r="4.5"/>
<circle cx="757.4" cy="1393.9" r="4.5"/>
<circle cx="758.4" cy="1391.7" r="4.5"/>
<circle cx="759.5" cy="1389.5" r="4.5"/>
<circle cx="760.6" cy="1387.4" r="4.5"/>
<circle cx="761.7" cy="1385.2" r="4.5"/>
<circle cx="762.8" cy="1383.0" r="4.5"/>
<circle cx="787.3" cy="1466.3" r="4.5"/>
<circle cx="789.1" cy="1464.2" r="4.5"/>
<circle cx="791.0" cy="1462.0" r="4.5"/>
<circle cx="792.8" cy="1459.8" r="4.5"/>
<circle cx="794.6" cy="1457.7" r="4.5"/>
<circle cx="794.6" cy="1457.7" r="4.5"/>
<circle cx="796.6" cy="1459.2" r="4.5"/>
<circle cx="798.5" cy="1460.6" r="4.5"/>
<circle cx="800.5" cy="1462.1" r="4.5"/>
<circle cx="802.4" cy="1463.5" r="4.5"/>
<circle cx="804.4" cy="1465.0" r="4.5"/>
<circle cx="810.5" cy="1351.2" r="4.5"/>
<circle cx="812.4" cy="1349.2" r="4.5"/>
<circle cx="814.2" cy="1347.1" r="4.5"/>
<circle cx="816.0" cy="1345.1" r="4.5"/>
<circle cx="817.9" cy="1343.1" r="4.5"/>
<circle cx="819.8" cy="1341.0" r="4.5"/>
<circle cx="821.6" cy="1339.0" r="4.5"/>
<circle cx="821.6" cy="1339.0" r="4.5"/>
<circle cx="824.0" cy="1338.7" r="4.5"/>
<circle cx="826.5" cy="1338.5" r="4.5"/>
<circle cx="828.9" cy="1338.2" r="4.5"/>
<circle cx="831.4" cy="1338.0" r="4.5"/>
<circle cx="833.8" cy="1337.7" r="4.5"/>
<circle cx="847.3" cy="1467.5" r="4.5"/>
<circle cx="849.5" cy="1466.5" r="4.5"/>
<circle cx="851.8" cy="1465.5" r="4.5"/>
<circle cx="854.0" cy="1464.5" r="4.5"/>
<circle cx="856.2" cy="1463.4" r="4.5"/>
<circle cx="858.5" cy="1462.4" r="4.5"/>
<circle cx="860.7" cy="1461.4" r="4.5"/>
<circle cx="885.2" cy="1657.2" r="4.5"/>
<circle cx="887.0" cy="1655.5" r="4.5"/>
<circle cx="888.7" cy="1653.7" r="4.5"/>
<circle cx="890.5" cy="1652.0" r="4.5"/>
<circle cx="892.2" cy="1650.2" r="4.5"/>
<circle cx="894.0" cy="1648.5" r="4.5"/>
<circle cx="895.7" cy="1646.7" r="4.5"/>
<circle cx="897.5" cy="1645.0" r="4.5"/>
<circle cx="902.4" cy="1608.2" r="4.5"/>
<circle cx="904.3" cy="1606.4" r="4.5"/>
<circle cx="906.2" cy="1604.6" r="4.5"/>
<circle cx="908.1" cy="1602.8" r="4.5"/>
<circle cx="910.0" cy="1601.0" r="4.5"/>
<circle cx="910.0" cy="1601.0" r="4.5"/>
<circle cx="912.3" cy="1602.7" r="4.5"/>
<circle cx="914.7" cy="1604.3" r="4.5"/>
<circle cx="917.0" cy="1606.0" r="4.5"/>
<circle cx="917.0" cy="1606.0" r="4.5"/>
<circle cx="919.0" cy="1604.5" r="4.5"/>
<circle cx="921.0" cy="1603.0" r="4.5"/>
<circle cx="923.0" cy="1601.5" r="4.5"/>
<circle cx="925.0" cy="1600.0" r="4.5"/>
<circle cx="925.0" cy="1600.0" r="4.5"/>
<circle cx="927.1" cy="1601.2" r="4.5"/>
<circle cx="929.3" cy="1602.3" r="4.5"/>
<circle cx="931.4" cy="1603.5" r="4.5"/>
<circle cx="933.6" cy="1604.7" r="4.5"/>
<circle cx="935.7" cy="1605.9" r="4.5"/>
<circle cx="937.9" cy="1607.0" r="4.5"/>
<circle cx="940.0" cy="1608.2" r="4.5"/>
<circle cx="940.0" cy="1608.2" r="4.5"/>
<circle cx="942.7" cy="1606.5" r="4.5"/>
<circle cx="945.3" cy="1604.7" r="4.5"/>
<circle cx="948.0" cy="1603.0" r="4.5"/>
<circle cx="948.0" cy="1603.0" r="4.5"/>
<circle cx="950.9" cy="1603.9" r="4.5"/>
<circle cx="953.8" cy="1604.9" r="4.5"/>
<circle cx="956.7" cy="1605.8" r="4.5"/>
<circle cx="964.0" cy="1522.6" r="4.5"/>
<circle cx="966.0" cy="1520.7" r="4.5"/>
<circle cx="968.0" cy="1518.9" r="4.5"/>
<circle cx="970.0" cy="1517.0" r="4.5"/>
<circle cx="970.0" cy="1517.0" r="4.5"/>
<circle cx="972.9" cy="1516.4" r="4.5"/>
<circle cx="975.9" cy="1515.8" r="4.5"/>
<circle cx="978.8" cy="1515.2" r="4.5"/>
<circle cx="988.0" cy="1342.0" r="4.5"/>
<circle cx="989.2" cy="1344.5" r="4.5"/>
<circle cx="990.5" cy="1347.0" r="4.5"/>
<circle cx="991.8" cy="1349.5" r="4.5"/>
<circle cx="993.0" cy="1352.0" r="4.5"/>
<circle cx="1005.0" cy="1302.0" r="4.5"/>
<circle cx="1007.3" cy="1301.0" r="4.5"/>
<circle cx="1009.7" cy="1300.0" r="4.5"/>
<circle cx="1012.0" cy="1299.0" r="4.5"/>
<circle cx="1079.1" cy="1429.5" r="4.5"/>
<circle cx="1080.7" cy="1431.5" r="4.5"/>
<circle cx="1082.4" cy="1433.6" r="4.5"/>
<circle cx="1084.0" cy="1435.6" r="4.5"/>
<circle cx="1085.6" cy="1437.7" r="4.5"/>
<circle cx="1087.3" cy="1439.7" r="4.5"/>
<circle cx="1088.9" cy="1441.8" r="4.5"/>
<circle cx="1090.5" cy="1443.8" r="4.5"/>
<circle cx="1092.2" cy="1445.9" r="4.5"/>
<circle cx="1093.8" cy="1447.9" r="4.5"/>
<circle cx="1108.5" cy="1703.7" r="4.5"/>
<circle cx="1110.6" cy="1702.0" r="4.5"/>
<circle cx="1112.7" cy="1700.2" r="4.5"/>
<circle cx="1114.8" cy="1698.5" r="4.5"/>
<circle cx="1116.9" cy="1696.7" r="4.5"/>
<circle cx="1119.0" cy="1695.0" r="4.5"/>
<circle cx="1121.1" cy="1693.2" r="4.5"/>
<circle cx="1123.2" cy="1691.5" r="4.5"/>
<circle cx="1137.9" cy="1434.4" r="4.5"/>
<circle cx="1138.9" cy="1436.7" r="4.5"/>
<circle cx="1139.9" cy="1438.9" r="4.5"/>
<circle cx="1141.0" cy="1441.2" r="4.5"/>
<circle cx="1142.0" cy="1443.4" r="4.5"/>
<circle cx="1143.0" cy="1445.7" r="4.5"/>
<circle cx="1144.0" cy="1447.9" r="4.5"/>
<circle cx="1145.0" cy="1450.2" r="4.5"/>
<circle cx="1146.0" cy="1452.4" r="4.5"/>
<circle cx="1147.0" cy="1454.7" r="4.5"/>
<circle cx="1148.1" cy="1456.9" r="4.5"/>
<circle cx="1149.1" cy="1459.2" r="4.5"/>
<circle cx="1150.1" cy="1461.4" r="4.5"/>
<circle cx="1189.8" cy="1429.5" r="4.5"/>
<circle cx="1191.0" cy="1431.7" r="4.5"/>
<circle cx="1192.2" cy="1433.8" r="4.5"/>
<circle cx="1193.5" cy="1436.0" r="4.5"/>
<circle cx="1194.7" cy="1438.2" r="4.5"/>
<circle cx="1195.9" cy="1440.3" r="4.5"/>
<circle cx="1197.1" cy="1442.5" r="4.5"/>
<circle cx="1198.4" cy="1444.7" r="4.5"/>
<circle cx="1199.6" cy="1446.8" r="4.5"/>
<circle cx="1200.8" cy="1449.0" r="4.5"/>
<circle cx="1202.0" cy="1451.1" r="4.5"/>
<circle cx="1203.3" cy="1453.3" r="4.5"/>
<circle cx="1204.5" cy="1455.5" r="4.5"/>
<circle cx="1205.7" cy="1457.6" r="4.5"/>
<circle cx="1206.9" cy="1459.8" r="4.5"/>
<circle cx="1208.2" cy="1462.0" r="4.5"/>
<circle cx="1209.4" cy="1464.1" r="4.5"/>
<circle cx="1210.6" cy="1466.3" r="4.5"/>
<circle cx="1225.3" cy="1681.7" r="4.5"/>
<circle cx="1225.9" cy="1679.2" r="4.5"/>
<circle cx="1226.5" cy="1676.8" r="4.5"/>
<circle cx="1227.1" cy="1674.4" r="4.5"/>
<circle cx="1227.7" cy="1671.9" r="4.5"/>
<circle cx="1228.3" cy="1669.5" r="4.5"/>
<circle cx="1229.0" cy="1667.0" r="4.5"/>
<circle cx="1229.6" cy="1664.5" r="4.5"/>
<circle cx="1230.2" cy="1662.1" r="4.5"/>
<circle cx="1230.8" cy="1659.7" r="4.5"/>
<circle cx="1231.4" cy="1657.2" r="4.5"/>
<circle cx="1231.4" cy="1657.2" r="4.5"/>
<circle cx="1233.1" cy="1655.4" r="4.5"/>
<circle cx="1234.8" cy="1653.5" r="4.5"/>
<circle cx="1236.5" cy="1651.7" r="4.5"/>
<circle cx="1238.2" cy="1649.8" r="4.5"/>
<circle cx="1240.0" cy="1648.0" r="4.5"/>
<circle cx="1241.7" cy="1646.2" r="4.5"/>
<circle cx="1243.4" cy="1644.3" r="4.5"/>
<circle cx="1245.1" cy="1642.5" r="4.5"/>
<circle cx="1246.8" cy="1640.6" r="4.5"/>
<circle cx="1248.5" cy="1638.8" r="4.5"/>
<circle cx="1275.5" cy="1613.1" r="4.5"/>
<circle cx="1278.0" cy="1614.6" r="4.5"/>
<circle cx="1280.4" cy="1616.2" r="4.5"/>
<circle cx="1282.8" cy="1617.8" r="4.5"/>
<circle cx="1285.3" cy="1619.3" r="4.5"/>
<circle cx="1285.3" cy="1619.3" r="4.5"/>
<circle cx="1286.9" cy="1617.5" r="4.5"/>
<circle cx="1288.6" cy="1615.6" r="4.5"/>
<circle cx="1290.2" cy="1613.8" r="4.5"/>
<circle cx="1291.8" cy="1611.9" r="4.5"/>
<circle cx="1293.5" cy="1610.0" r="4.5"/>
<circle cx="1295.1" cy="1608.2" r="4.5"/>
<circle cx="1295.1" cy="1608.2" r="4.5"/>
<circle cx="1296.6" cy="1610.2" r="4.5"/>
<circle cx="1298.0" cy="1612.1" r="4.5"/>
<circle cx="1299.5" cy="1614.1" r="4.5"/>
<circle cx="1300.9" cy="1616.0" r="4.5"/>
<circle cx="1302.4" cy="1618.0" r="4.5"/>
<circle cx="1302.4" cy="1618.0" r="4.5"/>
<circle cx="1303.8" cy="1615.8" r="4.5"/>
<circle cx="1305.1" cy="1613.6" r="4.5"/>
<circle cx="1306.5" cy="1611.5" r="4.5"/>
<circle cx="1307.8" cy="1609.3" r="4.5"/>
<circle cx="1309.2" cy="1607.1" r="4.5"/>
<circle cx="1310.5" cy="1604.9" r="4.5"/>
<circle cx="1311.9" cy="1602.8" r="4.5"/>
<circle cx="1313.2" cy="1600.6" r="4.5"/>
<circle cx="1314.6" cy="1598.4" r="4.5"/>
<circle cx="1336.7" cy="1621.7" r="4.5"/>
<circle cx="1338.8" cy="1619.8" r="4.5"/>
<circle cx="1340.8" cy="1617.8" r="4.5"/>
<circle cx="1342.9" cy="1615.9" r="4.5"/>
<circle cx="1345.0" cy="1614.0" r="4.5"/>
<circle cx="1345.0" cy="1614.0" r="4.5"/>
<circle cx="1347.3" cy="1616.0" r="4.5"/>
<circle cx="1349.7" cy="1618.0" r="4.5"/>
<circle cx="1352.0" cy="1620.0" r="4.5"/>
<circle cx="1352.0" cy="1620.0" r="4.5"/>
<circle cx="1354.3" cy="1618.9" r="4.5"/>
<circle cx="1356.5" cy="1617.8" r="4.5"/>
<circle cx="1358.8" cy="1616.7" r="4.5"/>
<circle cx="1361.1" cy="1615.6" r="4.5"/>
<circle cx="1373.4" cy="1522.6" r="4.5"/>
<circle cx="1375.0" cy="1520.8" r="4.5"/>
<circle cx="1376.7" cy="1518.9" r="4.5"/>
<circle cx="1378.3" cy="1517.0" r="4.5"/>
<circle cx="1379.9" cy="1515.2" r="4.5"/>
<circle cx="1381.6" cy="1513.3" r="4.5"/>
<circle cx="1383.2" cy="1511.5" r="4.5"/>
<circle cx="1400.3" cy="1630.3" r="4.5"/>
<circle cx="1401.9" cy="1628.2" r="4.5"/>
<circle cx="1403.4" cy="1626.1" r="4.5"/>
<circle cx="1405.0" cy="1624.0" r="4.5"/>
<circle cx="1406.6" cy="1621.9" r="4.5"/>
<circle cx="1408.2" cy="1619.8" r="4.5"/>
<circle cx="1409.7" cy="1617.7" r="4.5"/>
<circle cx="1411.3" cy="1615.6" r="4.5"/>
<circle cx="1411.3" cy="1615.6" r="4.5"/>
<circle cx="1413.2" cy="1617.2" r="4.5"/>
<circle cx="1415.0" cy="1618.9" r="4.5"/>
<circle cx="1416.8" cy="1620.5" r="4.5"/>
<circle cx="1418.7" cy="1622.1" r="4.5"/>
<circle cx="1420.6" cy="1623.8" r="4.5"/>
<circle cx="1422.4" cy="1625.4" r="4.5"/>
<circle cx="1448.6" cy="1412.4" r="4.5"/>
<circle cx="1449.8" cy="1410.1" r="4.5"/>
<circle cx="1451.0" cy="1407.9" r="4.5"/>
<circle cx="1452.3" cy="1405.6" r="4.5"/>
<circle cx="1453.5" cy="1403.4" r="4.5"/>
<circle cx="1454.7" cy="1401.1" r="4.5"/>
<circle cx="1455.9" cy="1398.8" r="4.5"/>
<circle cx="1457.2" cy="1396.6" r="4.5"/>
<circle cx="1458.4" cy="1394.3" r="4.5"/>
<circle cx="1459.6" cy="1392.0" r="4.5"/>
<circle cx="1460.8" cy="1389.8" r="4.5"/>
<circle cx="1462.1" cy="1387.5" r="4.5"/>
<circle cx="1463.3" cy="1385.3" r="4.5"/>
<circle cx="1464.5" cy="1383.0" r="4.5"/>
<circle cx="1482.8" cy="1449.1" r="4.5"/>
<circle cx="1484.2" cy="1451.2" r="4.5"/>
<circle cx="1485.6" cy="1453.2" r="4.5"/>
<circle cx="1487.0" cy="1455.3" r="4.5"/>
<circle cx="1488.5" cy="1457.4" r="4.5"/>
<circle cx="1489.9" cy="1459.4" r="4.5"/>
<circle cx="1491.3" cy="1461.5" r="4.5"/>
<circle cx="1492.7" cy="1463.6" r="4.5"/>
<circle cx="1494.1" cy="1465.7" r="4.5"/>
<circle cx="1495.5" cy="1467.7" r="4.5"/>
<circle cx="1497.0" cy="1469.8" r="4.5"/>
<circle cx="1498.4" cy="1471.9" r="4.5"/>
<circle cx="1499.8" cy="1473.9" r="4.5"/>
<circle cx="1501.2" cy="1476.0" r="4.5"/>
<circle cx="1551.4" cy="1485.8" r="4.5"/>
<circle cx="1553.6" cy="1486.8" r="4.5"/>
<circle cx="1555.8" cy="1487.8" r="4.5"/>
<circle cx="1558.0" cy="1488.7" r="4.5"/>
<circle cx="1560.2" cy="1489.7" r="4.5"/>
<circle cx="1562.4" cy="1490.7" r="4.5"/>
<circle cx="1656.6" cy="1461.4" r="4.5"/>
<circle cx="1659.4" cy="1461.8" r="4.5"/>
<circle cx="1662.3" cy="1462.2" r="4.5"/>
<circle cx="1665.2" cy="1462.6" r="4.5"/>
<circle cx="1668.0" cy="1463.0" r="4.5"/>
<circle cx="1668.0" cy="1463.0" r="4.5"/>
<circle cx="1670.4" cy="1462.2" r="4.5"/>
<circle cx="1672.8" cy="1461.4" r="4.5"/>
<circle cx="1675.1" cy="1460.5" r="4.5"/>
<circle cx="1677.5" cy="1459.7" r="4.5"/>
<circle cx="1679.9" cy="1458.9" r="4.5"/>
<circle cx="1689.7" cy="1358.5" r="4.5"/>
<circle cx="1690.5" cy="1356.1" r="4.5"/>
<circle cx="1691.3" cy="1353.6" r="4.5"/>
<circle cx="1692.2" cy="1351.2" r="4.5"/>
<circle cx="1693.0" cy="1348.8" r="4.5"/>
<circle cx="1693.8" cy="1346.3" r="4.5"/>
<circle cx="1694.6" cy="1343.9" r="4.5"/>
<circle cx="1720.8" cy="1414.8" r="4.5"/>
<circle cx="1722.6" cy="1416.6" r="4.5"/>
<circle cx="1724.3" cy="1418.4" r="4.5"/>
<circle cx="1726.1" cy="1420.1" r="4.5"/>
<circle cx="1727.9" cy="1421.9" r="4.5"/>
<circle cx="1729.6" cy="1423.7" r="4.5"/>
<circle cx="1731.4" cy="1425.5" r="4.5"/>
<circle cx="1733.2" cy="1427.2" r="4.5"/>
<circle cx="1734.9" cy="1429.0" r="4.5"/>
<circle cx="1736.7" cy="1430.8" r="4.5"/>
<circle cx="1785.7" cy="1515.2" r="4.5"/>
<circle cx="1788.2" cy="1514.9" r="4.5"/>
<circle cx="1790.6" cy="1514.6" r="4.5"/>
<circle cx="1793.0" cy="1514.3" r="4.5"/>
<circle cx="1795.5" cy="1514.0" r="4.5"/>
<circle cx="1797.9" cy="1627.8" r="4.5"/>
<circle cx="1800.3" cy="1627.2" r="4.5"/>
<circle cx="1802.8" cy="1626.7" r="4.5"/>
<circle cx="1805.2" cy="1626.1" r="4.5"/>
<circle cx="1807.7" cy="1625.6" r="4.5"/>
<circle cx="1810.1" cy="1625.0" r="4.5"/>
<circle cx="1812.6" cy="1624.4" r="4.5"/>
<circle cx="1815.0" cy="1623.9" r="4.5"/>
<circle cx="1817.5" cy="1623.3" r="4.5"/>
<circle cx="1819.9" cy="1622.7" r="4.5"/>
<circle cx="1822.4" cy="1622.2" r="4.5"/>
<circle cx="1824.8" cy="1621.6" r="4.5"/>
<circle cx="1827.3" cy="1621.1" r="4.5"/>
<circle cx="1829.7" cy="1620.5" r="4.5"/>
<circle cx="1845.7" cy="1525.0" r="4.5"/>
<circle cx="1847.7" cy="1523.0" r="4.5"/>
<circle cx="1849.8" cy="1520.9" r="4.5"/>
<circle cx="1851.8" cy="1518.9" r="4.5"/>
<circle cx="1856.7" cy="1632.7" r="4.5"/>
<circle cx="1859.2" cy="1631.5" r="4.5"/>
<circle cx="1861.6" cy="1630.3" r="4.5"/>
<circle cx="1864.1" cy="1629.1" r="4.5"/>
<circle cx="1866.5" cy="1627.8" r="4.5"/>
<circle cx="1869.0" cy="1626.6" r="4.5"/>
<circle cx="1871.4" cy="1625.4" r="4.5"/>
<circle cx="1871.4" cy="1625.4" r="4.5"/>
<circle cx="1872.3" cy="1627.9" r="4.5"/>
<circle cx="1873.2" cy="1630.3" r="4.5"/>
<circle cx="1874.1" cy="1632.8" r="4.5"/>
<circle cx="1875.1" cy="1635.2" r="4.5"/>
<circle cx="1876.0" cy="1637.7" r="4.5"/>
<circle cx="1876.9" cy="1640.1" r="4.5"/>
<circle cx="1877.8" cy="1642.5" r="4.5"/>
<circle cx="1878.7" cy="1645.0" r="4.5"/>
<circle cx="1878.7" cy="1645.0" r="4.5"/>
<circle cx="1880.9" cy="1644.0" r="4.5"/>
<circle cx="1883.1" cy="1643.0" r="4.5"/>
<circle cx="1885.3" cy="1642.0" r="4.5"/>
<circle cx="1887.5" cy="1641.0" r="4.5"/>
<circle cx="1889.7" cy="1640.0" r="4.5"/>
<circle cx="1915.4" cy="1383.0" r="4.5"/>
<circle cx="1917.8" cy="1380.5" r="4.5"/>
<circle cx="1920.3" cy="1378.1" r="4.5"/>
<circle cx="1920.3" cy="1378.1" r="4.5"/>
<circle cx="1921.9" cy="1380.1" r="4.5"/>
<circle cx="1923.6" cy="1382.2" r="4.5"/>
<circle cx="1925.2" cy="1384.2" r="4.5"/>
<circle cx="1926.8" cy="1386.3" r="4.5"/>
<circle cx="1928.5" cy="1388.3" r="4.5"/>
<circle cx="1930.1" cy="1390.4" r="4.5"/>
<circle cx="1931.7" cy="1392.4" r="4.5"/>
<circle cx="1933.4" cy="1394.5" r="4.5"/>
<circle cx="1935.0" cy="1396.5" r="4.5"/>
<circle cx="1935.0" cy="1396.5" r="4.5"/>
<circle cx="1937.5" cy="1395.5" r="4.5"/>
<circle cx="1939.9" cy="1394.5" r="4.5"/>
<circle cx="1942.3" cy="1393.5" r="4.5"/>
<circle cx="1944.8" cy="1392.4" r="4.5"/>
<circle cx="1947.2" cy="1391.4" r="4.5"/>
<circle cx="1949.7" cy="1390.4" r="4.5"/>
<circle cx="1959.5" cy="1458.9" r="4.5"/>
<circle cx="1961.5" cy="1457.3" r="4.5"/>
<circle cx="1963.4" cy="1455.7" r="4.5"/>
<circle cx="1965.4" cy="1454.1" r="4.5"/>
<circle cx="1967.3" cy="1452.6" r="4.5"/>
<circle cx="1969.3" cy="1451.0" r="4.5"/>
<circle cx="1971.2" cy="1449.4" r="4.5"/>
<circle cx="1973.2" cy="1447.8" r="4.5"/>
<circle cx="1975.2" cy="1446.2" r="4.5"/>
<circle cx="1977.1" cy="1444.6" r="4.5"/>
<circle cx="1979.1" cy="1443.0" r="4.5"/>
<circle cx="1981.0" cy="1441.5" r="4.5"/>
<circle cx="1983.0" cy="1439.9" r="4.5"/>
<circle cx="1984.9" cy="1438.3" r="4.5"/>
<circle cx="1986.9" cy="1436.7" r="4.5"/>
<circle cx="2009.4" cy="1453.2" r="4.5"/>
<circle cx="2011.2" cy="1455.0" r="4.5"/>
<circle cx="2012.9" cy="1456.7" r="4.5"/>
<circle cx="2014.7" cy="1458.5" r="4.5"/>
<circle cx="2016.4" cy="1460.2" r="4.5"/>
<circle cx="2018.2" cy="1462.0" r="4.5"/>
<circle cx="2019.9" cy="1463.7" r="4.5"/>
</g>
<polyline points="155.5,1461.2 195.7,1461.2 254.0,1419.3 312.4,1483.0 370.7,1424.7 429.0,1511.5 487.3,1501.0 545.7,1452.0 604.0,1465.7 662.3,1519.3 720.7,1474.9 779.0,1549.4 837.3,1537.6 895.7,1429.1 954.0,1380.7 1012.3,1539.0 1070.6,1581.0 1129.0,1570.3 1187.3,1535.0 1245.6,1429.1 1304.0,1362.4 1362.3,1502.3 1420.6,1558.6 1479.0,1383.3 1537.3,1541.6 1595.6,1527.2 1654.0,1520.8 1712.3,1438.4 1770.6,1458.7 1828.9,1446.0 1887.3,1451.1 1945.6,1541.1 1993.0,1566.4 2020.4,1566.4" fill="none" stroke="#f8f8f8" stroke-width="16"/>
<polyline points="155.5,1629.8 195.7,1629.8 254.0,1563.9 312.4,1596.9 370.7,1679.2 429.0,1638.8 487.3,1611.8 545.7,1563.9 604.0,1612.2 662.3,1609.6 720.7,1595.2 779.0,1693.3 837.3,1697.2 895.7,1618.7 954.0,1684.1 1012.3,1697.2 1070.6,1684.1 1129.0,1681.5 1187.3,1621.4 1245.6,1627.9 1304.0,1580.8 1362.3,1599.1 1420.6,1672.4 1479.0,1685.4 1537.3,1688.0 1595.6,1663.2 1654.0,1617.1 1712.3,1651.4 1770.6,1659.0 1828.9,1640.0 1887.3,1683.0 1945.6,1666.6 1993.0,1652.6 2020.4,1652.6" fill="none" stroke="#f8f8f8" stroke-width="16"/>
<polyline points="155.5,1540.0 195.7,1540.0 254.0,1495.0 312.4,1571.4 370.7,1546.0 429.0,1571.4 487.3,1547.5 545.7,1515.7 604.0,1531.1 662.3,1567.7 720.7,1540.3 779.0,1605.7 837.3,1596.5 895.7,1546.8 954.0,1531.1 1012.3,1629.2 1070.6,1627.0 1129.0,1613.5 1187.3,1575.6 1245.6,1539.0 1304.0,1473.6 1362.3,1535.0 1420.6,1607.0 1479.0,1508.9 1537.3,1613.5 1595.6,1601.7 1654.0,1574.0 1712.3,1527.2 1770.6,1557.6 1828.9,1557.6 1887.3,1566.4 1945.6,1598.1 1993.0,1595.6 2020.4,1595.6" fill="none" stroke="#f8f8f8" stroke-width="16"/>
<line x1="155.5" y1="1295.3" x2="155.5" y2="1709.2" stroke="#407070" stroke-width="2.6"/>
<line x1="155.5" y1="1709.2" x2="194" y2="1709.2" stroke="#407070" stroke-width="2"/>
<line x1="155.5" y1="1695.4" x2="175" y2="1695.4" stroke="#407070" stroke-width="2"/>
<line x1="175" y1="1695.4" x2="184" y2="1695.4" stroke="#000" stroke-width="2"/>
<line x1="155.5" y1="1681.6" x2="175" y2="1681.6" stroke="#407070" stroke-width="2"/>
<line x1="175" y1="1681.6" x2="184" y2="1681.6" stroke="#000" stroke-width="2"/>
<line x1="155.5" y1="1667.8" x2="175" y2="1667.8" stroke="#407070" stroke-width="2"/>
<line x1="175" y1="1667.8" x2="184" y2="1667.8" stroke="#000" stroke-width="2"/>
<line x1="155.5" y1="1654.0" x2="175" y2="1654.0" stroke="#407070" stroke-width="2"/>
<line x1="175" y1="1654.0" x2="184" y2="1654.0" stroke="#000" stroke-width="2"/>
<line x1="155.5" y1="1640.2" x2="194" y2="1640.2" stroke="#407070" stroke-width="2"/>
<line x1="155.5" y1="1626.4" x2="175" y2="1626.4" stroke="#407070" stroke-width="2"/>
<line x1="175" y1="1626.4" x2="184" y2="1626.4" stroke="#000" stroke-width="2"/>
<line x1="155.5" y1="1612.6" x2="175" y2="1612.6" stroke="#407070" stroke-width="2"/>
<line x1="175" y1="1612.6" x2="184" y2="1612.6" stroke="#000" stroke-width="2"/>
<line x1="155.5" y1="1598.8" x2="175" y2="1598.8" stroke="#407070" stroke-width="2"/>
<line x1="175" y1="1598.8" x2="184" y2="1598.8" stroke="#000" stroke-width="2"/>
<line x1="155.5" y1="1585.0" x2="175" y2="1585.0" stroke="#407070" stroke-width="2"/>
<line x1="175" y1="1585.0" x2="184" y2="1585.0" stroke="#000" stroke-width="2"/>
<line x1="155.5" y1="1571.2" x2="194" y2="1571.2" stroke="#407070" stroke-width="2"/>
<line x1="155.5" y1="1557.4" x2="175" y2="1557.4" stroke="#407070" stroke-width="2"/>
<line x1="175" y1="1557.4" x2="184" y2="1557.4" stroke="#000" stroke-width="2"/>
<line x1="155.5" y1="1543.6" x2="175" y2="1543.6" stroke="#407070" stroke-width="2"/>
<line x1="175" y1="1543.6" x2="184" y2="1543.6" stroke="#000" stroke-width="2"/>
<line x1="155.5" y1="1529.8" x2="175" y2="1529.8" stroke="#407070" stroke-width="2"/>
<line x1="175" y1="1529.8" x2="184" y2="1529.8" stroke="#000" stroke-width="2"/>
<line x1="155.5" y1="1516.0" x2="175" y2="1516.0" stroke="#407070" stroke-width="2"/>
<line x1="175" y1="1516.0" x2="184" y2="1516.0" stroke="#000" stroke-width="2"/>
<line x1="155.5" y1="1502.2" x2="194" y2="1502.2" stroke="#407070" stroke-width="2"/>
<line x1="155.5" y1="1488.4" x2="175" y2="1488.4" stroke="#407070" stroke-width="2"/>
<line x1="175" y1="1488.4" x2="184" y2="1488.4" stroke="#000" stroke-width="2"/>
<line x1="155.5" y1="1474.7" x2="175" y2="1474.7" stroke="#407070" stroke-width="2"/>
<line x1="175" y1="1474.7" x2="184" y2="1474.7" stroke="#000" stroke-width="2"/>
<line x1="155.5" y1="1460.9" x2="175" y2="1460.9" stroke="#407070" stroke-width="2"/>
<line x1="175" y1="1460.9" x2="184" y2="1460.9" stroke="#000" stroke-width="2"/>
<line x1="155.5" y1="1447.1" x2="175" y2="1447.1" stroke="#407070" stroke-width="2"/>
<line x1="175" y1="1447.1" x2="184" y2="1447.1" stroke="#000" stroke-width="2"/>
<line x1="155.5" y1="1433.3" x2="194" y2="1433.3" stroke="#407070" stroke-width="2"/>
<line x1="155.5" y1="1419.5" x2="175" y2="1419.5" stroke="#407070" stroke-width="2"/>
<line x1="175" y1="1419.5" x2="184" y2="1419.5" stroke="#000" stroke-width="2"/>
<line x1="155.5" y1="1405.7" x2="175" y2="1405.7" stroke="#407070" stroke-width="2"/>
<line x1="175" y1="1405.7" x2="184" y2="1405.7" stroke="#000" stroke-width="2"/>
<line x1="155.5" y1="1391.9" x2="175" y2="1391.9" stroke="#407070" stroke-width="2"/>
<line x1="175" y1="1391.9" x2="184" y2="1391.9" stroke="#000" stroke-width="2"/>
<line x1="155.5" y1="1378.1" x2="175" y2="1378.1" stroke="#407070" stroke-width="2"/>
<line x1="175" y1="1378.1" x2="184" y2="1378.1" stroke="#000" stroke-width="2"/>
<line x1="155.5" y1="1364.3" x2="194" y2="1364.3" stroke="#407070" stroke-width="2"/>
<line x1="155.5" y1="1350.5" x2="175" y2="1350.5" stroke="#407070" stroke-width="2"/>
<line x1="175" y1="1350.5" x2="184" y2="1350.5" stroke="#000" stroke-width="2"/>
<line x1="155.5" y1="1336.7" x2="175" y2="1336.7" stroke="#407070" stroke-width="2"/>
<line x1="175" y1="1336.7" x2="184" y2="1336.7" stroke="#000" stroke-width="2"/>
<line x1="155.5" y1="1322.9" x2="175" y2="1322.9" stroke="#407070" stroke-width="2"/>
<line x1="175" y1="1322.9" x2="184" y2="1322.9" stroke="#000" stroke-width="2"/>
<line x1="155.5" y1="1309.1" x2="175" y2="1309.1" stroke="#407070" stroke-width="2"/>
<line x1="175" y1="1309.1" x2="184" y2="1309.1" stroke="#000" stroke-width="2"/>
<line x1="155.5" y1="1295.3" x2="194" y2="1295.3" stroke="#407070" stroke-width="2"/>
<polyline points="155.5,1461.2 195.7,1461.2 254.0,1419.3 312.4,1483.0 370.7,1424.7 429.0,1511.5 487.3,1501.0 545.7,1452.0 604.0,1465.7 662.3,1519.3 720.7,1474.9 779.0,1549.4 837.3,1537.6 895.7,1429.1 954.0,1380.7 1012.3,1539.0 1070.6,1581.0 1129.0,1570.3 1187.3,1535.0 1245.6,1429.1 1304.0,1362.4 1362.3,1502.3 1420.6,1558.6 1479.0,1383.3 1537.3,1541.6 1595.6,1527.2 1654.0,1520.8 1712.3,1438.4 1770.6,1458.7 1828.9,1446.0 1887.3,1451.1 1945.6,1541.1 1993.0,1566.4 2020.4,1566.4" fill="none" stroke="#407070" stroke-width="6.5"/>
<polyline points="155.5,1629.8 195.7,1629.8 254.0,1563.9 312.4,1596.9 370.7,1679.2 429.0,1638.8 487.3,1611.8 545.7,1563.9 604.0,1612.2 662.3,1609.6 720.7,1595.2 779.0,1693.3 837.3,1697.2 895.7,1618.7 954.0,1684.1 1012.3,1697.2 1070.6,1684.1 1129.0,1681.5 1187.3,1621.4 1245.6,1627.9 1304.0,1580.8 1362.3,1599.1 1420.6,1672.4 1479.0,1685.4 1537.3,1688.0 1595.6,1663.2 1654.0,1617.1 1712.3,1651.4 1770.6,1659.0 1828.9,1640.0 1887.3,1683.0 1945.6,1666.6 1993.0,1652.6 2020.4,1652.6" fill="none" stroke="#407070" stroke-width="6.5"/>
<polyline points="155.5,1540.0 195.7,1540.0 254.0,1495.0 312.4,1571.4 370.7,1546.0 429.0,1571.4 487.3,1547.5 545.7,1515.7 604.0,1531.1 662.3,1567.7 720.7,1540.3 779.0,1605.7 837.3,1596.5 895.7,1546.8 954.0,1531.1 1012.3,1629.2 1070.6,1627.0 1129.0,1613.5 1187.3,1575.6 1245.6,1539.0 1304.0,1473.6 1362.3,1535.0 1420.6,1607.0 1479.0,1508.9 1537.3,1613.5 1595.6,1601.7 1654.0,1574.0 1712.3,1527.2 1770.6,1557.6 1828.9,1557.6 1887.3,1566.4 1945.6,1598.1 1993.0,1595.6 2020.4,1595.6" fill="none" stroke="#407070" stroke-width="8" stroke-dasharray="7.5 6.3"/>
<line x1="194" y1="1709.2" x2="2020.4" y2="1709.2" stroke="#000" stroke-width="2" stroke-dasharray="8 6"/>
<line x1="194" y1="1640.2" x2="2020.4" y2="1640.2" stroke="#000" stroke-width="2" stroke-dasharray="8 6"/>
<line x1="194" y1="1571.2" x2="2020.4" y2="1571.2" stroke="#000" stroke-width="2" stroke-dasharray="8 6"/>
<line x1="194" y1="1502.2" x2="2020.4" y2="1502.2" stroke="#000" stroke-width="2" stroke-dasharray="8 6"/>
<line x1="194" y1="1433.3" x2="2020.4" y2="1433.3" stroke="#000" stroke-width="2" stroke-dasharray="8 6"/>
<line x1="194" y1="1364.3" x2="2020.4" y2="1364.3" stroke="#000" stroke-width="2" stroke-dasharray="8 6"/>
<text x="142.5" y="1319.9" font-size="29.5" fill="#407070" textLength="39.0" lengthAdjust="spacingAndGlyphs" text-anchor="end"  stroke="#407070" stroke-width="0.40">30</text>
<text x="142.5" y="1379.3" font-size="29.5" fill="#407070" textLength="39.0" lengthAdjust="spacingAndGlyphs" text-anchor="end"  stroke="#407070" stroke-width="0.40">25</text>
<text x="142.5" y="1448.1" font-size="29.5" fill="#407070" textLength="39.0" lengthAdjust="spacingAndGlyphs" text-anchor="end"  stroke="#407070" stroke-width="0.40">20</text>
<text x="142.5" y="1516.9" font-size="29.5" fill="#407070" textLength="39.0" lengthAdjust="spacingAndGlyphs" text-anchor="end"  stroke="#407070" stroke-width="0.40">15</text>
<text x="142.5" y="1585.8" font-size="29.5" fill="#407070" textLength="39.0" lengthAdjust="spacingAndGlyphs" text-anchor="end"  stroke="#407070" stroke-width="0.40">10</text>
<text x="142.5" y="1654.7" font-size="29.5" fill="#407070" textLength="19.5" lengthAdjust="spacingAndGlyphs" text-anchor="end"  stroke="#407070" stroke-width="0.40">5</text>
<text x="142.5" y="1709.2" font-size="29.5" fill="#407070" textLength="19.5" lengthAdjust="spacingAndGlyphs" text-anchor="end"  stroke="#407070" stroke-width="0.40">0</text>
<text x="2032.5" y="1319.9" font-size="29.5" fill="#7050a8" textLength="58.5" lengthAdjust="spacingAndGlyphs"  stroke="#7050a8" stroke-width="0.40">360</text>
<text x="2032.5" y="1412.8" font-size="29.5" fill="#7050a8" textLength="58.5" lengthAdjust="spacingAndGlyphs"  stroke="#7050a8" stroke-width="0.40">270</text>
<text x="2032.5" y="1516.2" font-size="29.5" fill="#7050a8" textLength="58.5" lengthAdjust="spacingAndGlyphs"  stroke="#7050a8" stroke-width="0.40">180</text>
<text x="2032.5" y="1619.5" font-size="29.5" fill="#7050a8" textLength="39.0" lengthAdjust="spacingAndGlyphs"  stroke="#7050a8" stroke-width="0.40">90</text>
<text x="2032.5" y="1707.9" font-size="29.5" fill="#7050a8" textLength="19.5" lengthAdjust="spacingAndGlyphs"  stroke="#7050a8" stroke-width="0.40">0</text>
<text transform="translate(69.5,1688) rotate(-90)" font-size="33" fill="#407070" stroke="#407070" stroke-width="0.35" textLength="371" lengthAdjust="spacingAndGlyphs">Скорость ветра (km/h)</text>
<text transform="translate(2134,1675) rotate(-90)" font-size="33" fill="#7050a8" stroke="#7050a8" stroke-width="0.35" textLength="322" lengthAdjust="spacingAndGlyphs">Направление ветра</text>
<text transform="translate(2114,1338) rotate(-90)" font-size="20" fill="#7050a8">o</text>
<text x="202.2" y="1279.2" font-size="28.5" fill="#1a1a1a" textLength="36.0" lengthAdjust="spacingAndGlyphs" text-anchor="middle"  stroke="#1a1a1a" stroke-width="0.50">01</text>
<text x="318.9" y="1279.2" font-size="28.5" fill="#1a1a1a" textLength="36.0" lengthAdjust="spacingAndGlyphs" text-anchor="middle"  stroke="#1a1a1a" stroke-width="0.50">03</text>
<text x="435.5" y="1279.2" font-size="28.5" fill="#1a1a1a" textLength="36.0" lengthAdjust="spacingAndGlyphs" text-anchor="middle"  stroke="#1a1a1a" stroke-width="0.50">05</text>
<text x="552.2" y="1279.2" font-size="28.5" fill="#1a1a1a" textLength="36.0" lengthAdjust="spacingAndGlyphs" text-anchor="middle"  stroke="#1a1a1a" stroke-width="0.50">07</text>
<text x="668.8" y="1279.2" font-size="28.5" fill="#1a1a1a" textLength="36.0" lengthAdjust="spacingAndGlyphs" text-anchor="middle"  stroke="#1a1a1a" stroke-width="0.50">09</text>
<text x="785.5" y="1279.2" font-size="28.5" fill="#1a1a1a" textLength="36.0" lengthAdjust="spacingAndGlyphs" text-anchor="middle"  stroke="#1a1a1a" stroke-width="0.50">11</text>
<text x="902.2" y="1279.2" font-size="28.5" fill="#1a1a1a" textLength="36.0" lengthAdjust="spacingAndGlyphs" text-anchor="middle"  stroke="#1a1a1a" stroke-width="0.50">13</text>
<text x="1018.8" y="1279.2" font-size="28.5" fill="#1a1a1a" textLength="36.0" lengthAdjust="spacingAndGlyphs" text-anchor="middle"  stroke="#1a1a1a" stroke-width="0.50">15</text>
<text x="1135.5" y="1279.2" font-size="28.5" fill="#1a1a1a" textLength="36.0" lengthAdjust="spacingAndGlyphs" text-anchor="middle"  stroke="#1a1a1a" stroke-width="0.50">17</text>
<text x="1252.1" y="1279.2" font-size="28.5" fill="#1a1a1a" textLength="36.0" lengthAdjust="spacingAndGlyphs" text-anchor="middle"  stroke="#1a1a1a" stroke-width="0.50">19</text>
<text x="1368.8" y="1279.2" font-size="28.5" fill="#1a1a1a" textLength="36.0" lengthAdjust="spacingAndGlyphs" text-anchor="middle"  stroke="#1a1a1a" stroke-width="0.50">21</text>
<text x="1485.5" y="1279.2" font-size="28.5" fill="#1a1a1a" textLength="36.0" lengthAdjust="spacingAndGlyphs" text-anchor="middle"  stroke="#1a1a1a" stroke-width="0.50">23</text>
<text x="1602.1" y="1279.2" font-size="28.5" fill="#1a1a1a" textLength="36.0" lengthAdjust="spacingAndGlyphs" text-anchor="middle"  stroke="#1a1a1a" stroke-width="0.50">25</text>
<text x="1718.8" y="1279.2" font-size="28.5" fill="#1a1a1a" textLength="36.0" lengthAdjust="spacingAndGlyphs" text-anchor="middle"  stroke="#1a1a1a" stroke-width="0.50">27</text>
<text x="1835.4" y="1279.2" font-size="28.5" fill="#1a1a1a" textLength="36.0" lengthAdjust="spacingAndGlyphs" text-anchor="middle"  stroke="#1a1a1a" stroke-width="0.50">29</text>
<text x="1952.1" y="1279.2" font-size="28.5" fill="#1a1a1a" textLength="36.0" lengthAdjust="spacingAndGlyphs" text-anchor="middle"  stroke="#1a1a1a" stroke-width="0.50">31</text>
<line x1="2186.7" y1="1246.5" x2="2186.7" y2="1279.4" stroke="#7050a8" stroke-width="6"/><polygon points="2186.7,1297.4 2176.7,1273.4 2186.7,1279.4 2196.7,1273.4" fill="#7050a8"/>
<line x1="2154.7" y1="1399.3" x2="2201.5" y2="1399.3" stroke="#7050a8" stroke-width="6"/><polygon points="2219.5,1399.3 2195.5,1409.3 2201.5,1399.3 2195.5,1389.3" fill="#7050a8"/>
<line x1="2186.7" y1="1553.6" x2="2186.7" y2="1520.7" stroke="#7050a8" stroke-width="6"/><polygon points="2186.7,1502.7 2196.7,1526.7 2186.7,1520.7 2176.7,1526.7" fill="#7050a8"/>
<line x1="2219.5" y1="1606.0" x2="2172.0" y2="1606.0" stroke="#7050a8" stroke-width="6"/><polygon points="2154.0,1606.0 2178.0,1596.0 2172.0,1606.0 2178.0,1616.0" fill="#7050a8"/>
<line x1="2186.7" y1="1660.0" x2="2186.7" y2="1691.4" stroke="#7050a8" stroke-width="6"/><polygon points="2186.7,1709.4 2176.7,1685.4 2186.7,1691.4 2196.7,1685.4" fill="#7050a8"/>
</svg></body></html>
